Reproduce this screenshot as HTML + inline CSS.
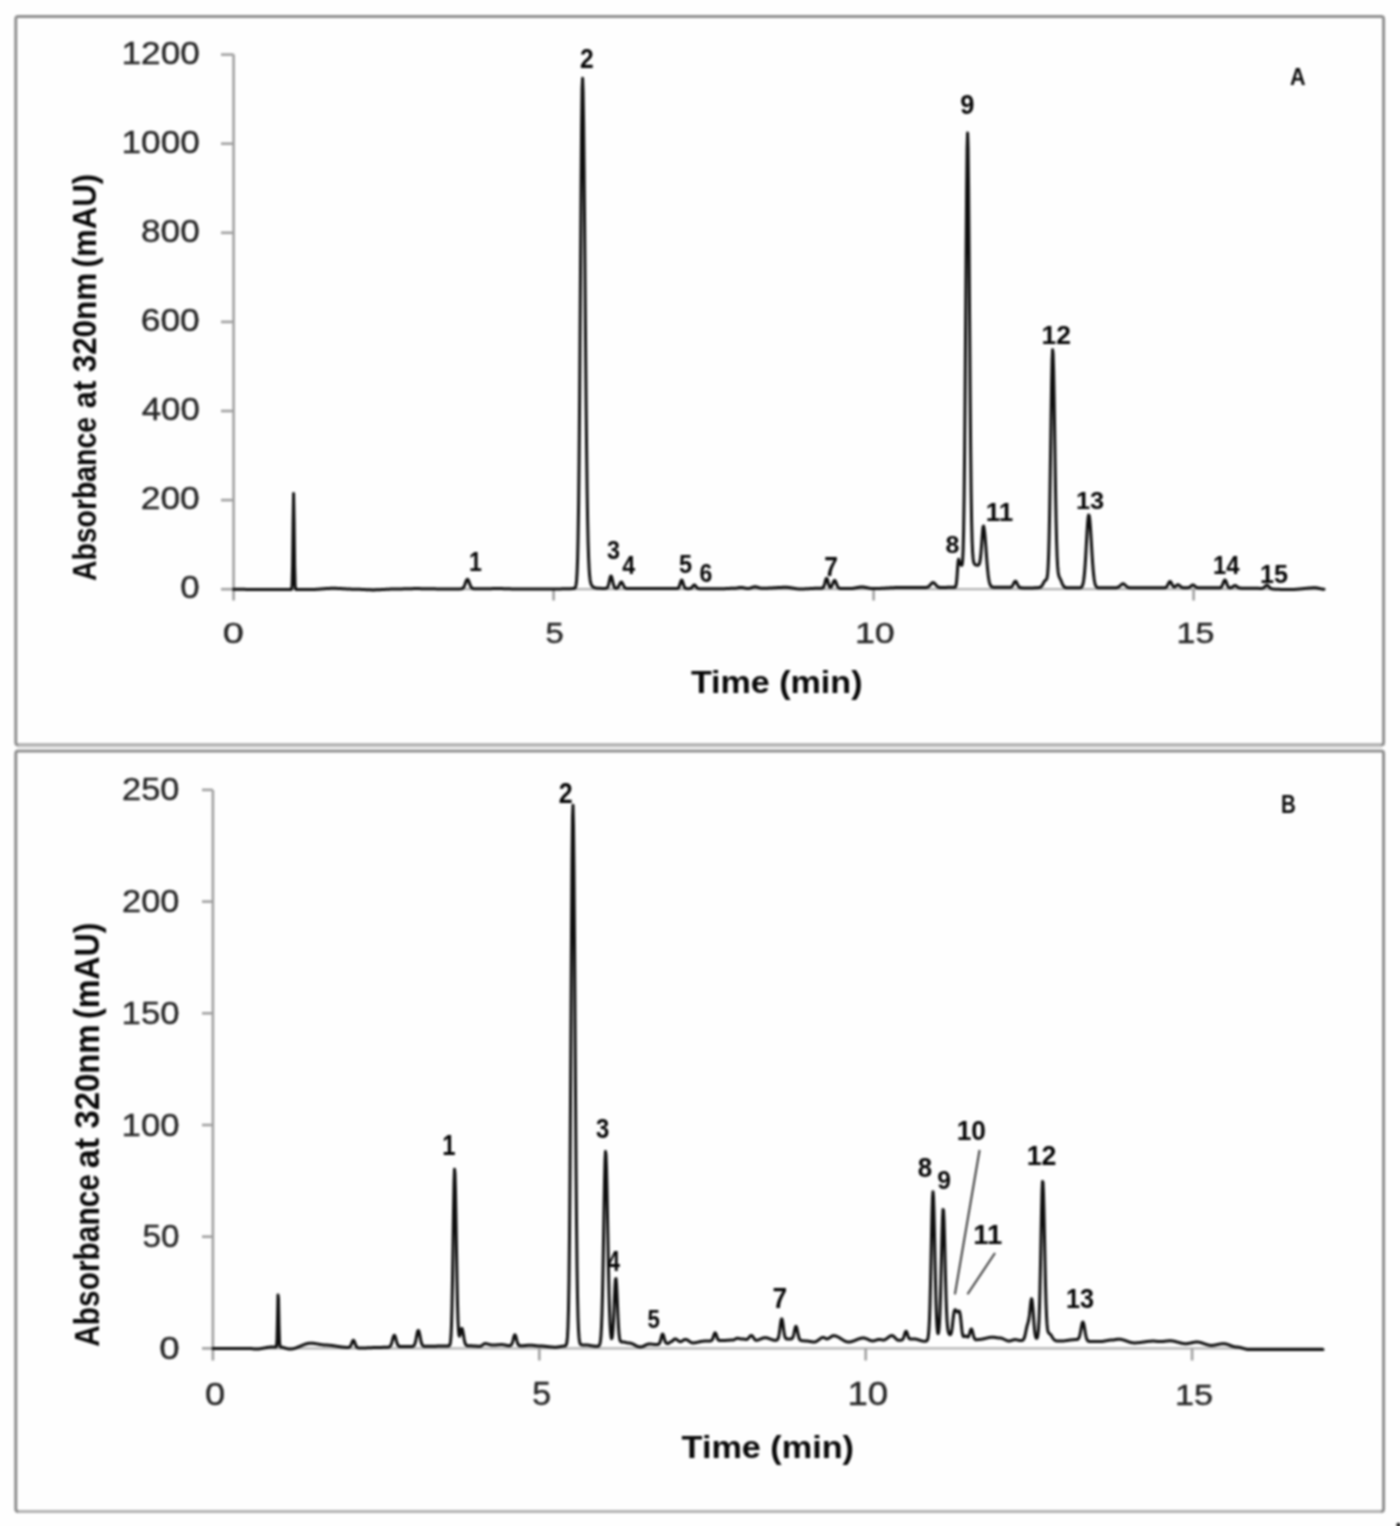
<!DOCTYPE html>
<html><head><meta charset="utf-8"><title>Chromatograms</title>
<style>html,body{margin:0;padding:0;background:#fefefe;}svg{display:block;}</style>
</head><body>
<svg width="1400" height="1526" viewBox="0 0 1400 1526">
<rect width="1400" height="1526" fill="#fefefe"/>
<defs><filter id="bl" filterUnits="userSpaceOnUse" x="0" y="0" width="1400" height="1526" color-interpolation-filters="sRGB"><feGaussianBlur stdDeviation="1.00"/></filter></defs>
<g filter="url(#bl)">
<rect x="15.8" y="16.5" width="1367.8" height="728.4" rx="2.5" fill="none" stroke="#8f8f8f" stroke-width="3"/>
<line x1="18.3" y1="744.9" x2="1381.1" y2="744.9" stroke="#b0b0b0" stroke-width="3"/>
<rect x="15.8" y="751" width="1367.8" height="760.5" rx="2.5" fill="none" stroke="#8d8d8d" stroke-width="3"/>
<line x1="18.3" y1="1511.5" x2="1381.1" y2="1511.5" stroke="#b3b3b3" stroke-width="3"/>
<rect x="17" y="746.6" width="1365" height="3" fill="#ececec"/>
<g stroke="#a0a0a0" stroke-width="2.6" fill="none">
<line x1="233.6" y1="54.6" x2="233.6" y2="600.5"/>
<line x1="233.6" y1="589.2" x2="1324.3" y2="589.2" stroke="#b2b2b2" stroke-width="2.2"/>
<line x1="221" y1="54.6" x2="233.6" y2="54.6"/>
<line x1="221" y1="143.7" x2="233.6" y2="143.7"/>
<line x1="221" y1="232.8" x2="233.6" y2="232.8"/>
<line x1="221" y1="321.9" x2="233.6" y2="321.9"/>
<line x1="221" y1="411.0" x2="233.6" y2="411.0"/>
<line x1="221" y1="500.1" x2="233.6" y2="500.1"/>
<line x1="221" y1="589.2" x2="233.6" y2="589.2"/>
<line x1="553.6" y1="589.2" x2="553.6" y2="600.5"/>
<line x1="873.6" y1="589.2" x2="873.6" y2="600.5"/>
<line x1="1193.6" y1="589.2" x2="1193.6" y2="600.5"/>
</g>
<g stroke="#a0a0a0" stroke-width="2.6" fill="none">
<line x1="212.9" y1="789.9" x2="212.9" y2="1360.5"/>
<line x1="212.9" y1="1348.4" x2="1322.9" y2="1348.4" stroke="#b2b2b2" stroke-width="2.2"/>
<line x1="202" y1="789.9" x2="212.9" y2="789.9"/>
<line x1="202" y1="901.6" x2="212.9" y2="901.6"/>
<line x1="202" y1="1013.3" x2="212.9" y2="1013.3"/>
<line x1="202" y1="1125.0" x2="212.9" y2="1125.0"/>
<line x1="202" y1="1236.7" x2="212.9" y2="1236.7"/>
<line x1="202" y1="1348.4" x2="212.9" y2="1348.4"/>
<line x1="539.3" y1="1348.4" x2="539.3" y2="1360.5"/>
<line x1="865.7" y1="1348.4" x2="865.7" y2="1360.5"/>
<line x1="1192.1" y1="1348.4" x2="1192.1" y2="1360.5"/>
</g>
<path d="M233.6 589.30L234.1 589.30L234.6 589.30L235.1 589.30L235.6 589.30L236.1 589.30L236.6 589.31L237.1 589.31L237.6 589.31L238.1 589.31L238.6 589.32L239.1 589.32L239.6 589.32L240.1 589.33L240.6 589.33L241.1 589.33L241.6 589.34L242.1 589.34L242.6 589.35L243.1 589.35L243.6 589.36L244.1 589.36L244.6 589.37L245.1 589.37L245.6 589.38L246.1 589.38L246.6 589.39L247.1 589.39L247.6 589.40L248.1 589.40L248.6 589.41L249.1 589.42L249.6 589.42L250.1 589.43L250.6 589.44L251.1 589.44L251.6 589.45L252.1 589.45L252.6 589.46L253.1 589.47L253.6 589.47L254.1 589.48L254.6 589.48L255.1 589.49L255.6 589.50L256.1 589.50L256.6 589.51L257.1 589.51L257.6 589.52L258.1 589.52L258.6 589.53L259.1 589.54L259.6 589.54L260.1 589.55L260.6 589.55L261.1 589.55L261.6 589.56L262.1 589.56L262.6 589.57L263.1 589.57L263.6 589.58L264.1 589.58L264.6 589.58L265.1 589.59L265.6 589.59L266.1 589.59L266.6 589.59L267.1 589.59L267.6 589.60L268.1 589.60L268.6 589.60L269.1 589.60L269.6 589.60L270.1 589.60L270.6 589.60L271.1 589.60L271.6 589.60L272.1 589.60L272.6 589.60L273.1 589.59L273.6 589.59L274.1 589.59L274.6 589.59L275.1 589.58L275.6 589.58L276.1 589.58L276.6 589.57L277.1 589.57L277.6 589.57L278.1 589.56L278.6 589.56L279.1 589.56L279.6 589.55L280.1 589.55L280.6 589.55L281.1 589.54L281.6 589.54L282.1 589.53L282.6 589.53L283.1 589.53L283.6 589.52L284.1 589.52L284.6 589.52L285.1 589.52L285.6 589.51L286.1 589.51L286.6 589.51L287.1 589.51L287.6 589.50L288.1 589.50L288.6 589.50L289.1 589.50L289.6 589.50L290.1 589.50L290.6 589.50L291.1 589.48L291.6 589.13L292.1 585.29L292.6 565.57L293.1 521.67L293.6 493.51L294.1 521.67L294.6 565.58L295.1 585.30L295.6 589.15L296.1 589.51L296.6 589.53L297.1 589.53L297.6 589.53L298.1 589.54L298.6 589.54L299.1 589.54L299.6 589.55L300.1 589.55L300.6 589.55L301.1 589.56L301.6 589.56L302.1 589.57L302.6 589.57L303.1 589.57L303.6 589.58L304.1 589.58L304.6 589.58L305.1 589.58L305.6 589.59L306.1 589.59L306.6 589.59L307.1 589.59L307.6 589.60L308.1 589.60L308.6 589.60L309.1 589.60L309.6 589.60L310.1 589.60L310.6 589.60L311.1 589.59L311.6 589.58L312.1 589.57L312.6 589.55L313.1 589.54L313.6 589.51L314.1 589.49L314.6 589.46L315.1 589.44L315.6 589.41L316.1 589.37L316.6 589.34L317.1 589.30L317.6 589.27L318.1 589.23L318.6 589.19L319.1 589.15L319.6 589.11L320.1 589.07L320.6 589.03L321.1 588.98L321.6 588.94L322.1 588.90L322.6 588.86L323.1 588.82L323.6 588.77L324.1 588.73L324.6 588.69L325.1 588.65L325.6 588.62L326.1 588.58L326.6 588.55L327.1 588.51L327.6 588.48L328.1 588.45L328.6 588.42L329.1 588.40L329.6 588.38L330.1 588.36L330.6 588.34L331.1 588.33L331.6 588.31L332.1 588.31L332.6 588.30L333.1 588.30L333.6 588.30L334.1 588.31L334.6 588.31L335.1 588.32L335.6 588.33L336.1 588.35L336.6 588.36L337.1 588.38L337.6 588.40L338.1 588.42L338.6 588.45L339.1 588.47L339.6 588.49L340.1 588.52L340.6 588.55L341.1 588.58L341.6 588.61L342.1 588.63L342.6 588.66L343.1 588.69L343.6 588.73L344.1 588.76L344.6 588.79L345.1 588.82L345.6 588.85L346.1 588.88L346.6 588.91L347.1 588.94L347.6 588.96L348.1 588.99L348.6 589.02L349.1 589.04L349.6 589.06L350.1 589.09L350.6 589.11L351.1 589.13L351.6 589.14L352.1 589.16L352.6 589.17L353.1 589.18L353.6 589.19L354.1 589.20L354.6 589.20L355.1 589.20L355.6 589.20L356.1 589.21L356.6 589.22L357.1 589.23L357.6 589.24L358.1 589.26L358.6 589.27L359.1 589.29L359.6 589.31L360.1 589.34L360.6 589.36L361.1 589.39L361.6 589.41L362.1 589.44L362.6 589.47L363.1 589.50L363.6 589.53L364.1 589.56L364.6 589.58L365.1 589.61L365.6 589.64L366.1 589.67L366.6 589.70L367.1 589.72L367.6 589.75L368.1 589.77L368.6 589.79L369.1 589.82L369.6 589.83L370.1 589.85L370.6 589.87L371.1 589.88L371.6 589.89L372.1 589.89L372.6 589.90L373.1 589.90L373.6 589.90L374.1 589.89L374.6 589.89L375.1 589.88L375.6 589.87L376.1 589.85L376.6 589.84L377.1 589.82L377.6 589.80L378.1 589.78L378.6 589.75L379.1 589.73L379.6 589.71L380.1 589.68L380.6 589.65L381.1 589.62L381.6 589.59L382.1 589.57L382.6 589.54L383.1 589.51L383.6 589.47L384.1 589.44L384.6 589.41L385.1 589.38L385.6 589.35L386.1 589.32L386.6 589.29L387.1 589.26L387.6 589.24L388.1 589.21L388.6 589.18L389.1 589.16L389.6 589.14L390.1 589.11L390.6 589.09L391.1 589.07L391.6 589.06L392.1 589.04L392.6 589.03L393.1 589.02L393.6 589.01L394.1 589.00L394.6 589.00L395.1 589.00L395.6 589.00L396.1 589.00L396.6 588.99L397.1 588.99L397.6 588.98L398.1 588.98L398.6 588.97L399.1 588.96L399.6 588.95L400.1 588.94L400.6 588.93L401.1 588.92L401.6 588.91L402.1 588.89L402.6 588.88L403.1 588.87L403.6 588.85L404.1 588.84L404.6 588.83L405.1 588.81L405.6 588.80L406.1 588.78L406.6 588.77L407.1 588.75L407.6 588.74L408.1 588.73L408.6 588.71L409.1 588.70L409.6 588.69L410.1 588.68L410.6 588.67L411.1 588.66L411.6 588.65L412.1 588.64L412.6 588.63L413.1 588.62L413.6 588.61L414.1 588.61L414.6 588.61L415.1 588.60L415.6 588.60L416.1 588.60L416.6 588.60L417.1 588.60L417.6 588.60L418.1 588.61L418.6 588.61L419.1 588.61L419.6 588.62L420.1 588.62L420.6 588.63L421.1 588.63L421.6 588.64L422.1 588.65L422.6 588.66L423.1 588.66L423.6 588.67L424.1 588.68L424.6 588.69L425.1 588.70L425.6 588.71L426.1 588.71L426.6 588.72L427.1 588.73L427.6 588.74L428.1 588.75L428.6 588.76L429.1 588.77L429.6 588.78L430.1 588.79L430.6 588.80L431.1 588.81L431.6 588.82L432.1 588.82L432.6 588.83L433.1 588.84L433.6 588.85L434.1 588.85L434.6 588.86L435.1 588.87L435.6 588.87L436.1 588.88L436.6 588.88L437.1 588.89L437.6 588.89L438.1 588.89L438.6 588.90L439.1 588.90L439.6 588.90L440.1 588.90L440.6 588.90L441.1 588.90L441.6 588.90L442.1 588.90L442.6 588.90L443.1 588.90L443.6 588.90L444.1 588.90L444.6 588.90L445.1 588.90L445.6 588.90L446.1 588.90L446.6 588.90L447.1 588.90L447.6 588.90L448.1 588.90L448.6 588.90L449.1 588.90L449.6 588.90L450.1 588.90L450.6 588.90L451.1 588.90L451.6 588.90L452.1 588.90L452.6 588.90L453.1 588.90L453.6 588.90L454.1 588.90L454.6 588.90L455.1 588.90L455.6 588.90L456.1 588.90L456.6 588.90L457.1 588.90L457.6 588.90L458.1 588.90L458.6 588.90L459.1 588.90L459.6 588.90L460.1 588.89L460.6 588.87L461.1 588.83L461.6 588.75L462.1 588.61L462.6 588.35L463.1 587.94L463.6 587.31L464.1 586.43L464.6 585.29L465.1 583.94L465.6 582.50L466.1 581.14L466.6 580.05L467.1 579.41L467.6 579.35L468.1 579.85L468.6 580.84L469.1 582.15L469.6 583.57L470.1 584.93L470.6 586.10L471.1 587.02L471.6 587.68L472.1 588.12L472.6 588.39L473.1 588.55L473.6 588.63L474.1 588.67L474.6 588.69L475.1 588.69L475.6 588.70L476.1 588.70L476.6 588.70L477.1 588.70L477.6 588.70L478.1 588.70L478.6 588.69L479.1 588.69L479.6 588.69L480.1 588.69L480.6 588.69L481.1 588.69L481.6 588.68L482.1 588.68L482.6 588.68L483.1 588.68L483.6 588.67L484.1 588.67L484.6 588.67L485.1 588.66L485.6 588.66L486.1 588.66L486.6 588.66L487.1 588.65L487.6 588.65L488.1 588.65L488.6 588.64L489.1 588.64L489.6 588.64L490.1 588.63L490.6 588.63L491.1 588.63L491.6 588.63L492.1 588.62L492.6 588.62L493.1 588.62L493.6 588.62L494.1 588.61L494.6 588.61L495.1 588.61L495.6 588.61L496.1 588.61L496.6 588.61L497.1 588.60L497.6 588.60L498.1 588.60L498.6 588.60L499.1 588.60L499.6 588.60L500.1 588.60L500.6 588.60L501.1 588.60L501.6 588.61L502.1 588.62L502.6 588.62L503.1 588.63L503.6 588.64L504.1 588.65L504.6 588.67L505.1 588.68L505.6 588.70L506.1 588.71L506.6 588.73L507.1 588.74L507.6 588.76L508.1 588.78L508.6 588.80L509.1 588.82L509.6 588.84L510.1 588.85L510.6 588.87L511.1 588.89L511.6 588.91L512.1 588.93L512.6 588.95L513.1 588.96L513.6 588.98L514.1 589.00L514.6 589.01L515.1 589.02L515.6 589.04L516.1 589.05L516.6 589.06L517.1 589.07L517.6 589.08L518.1 589.09L518.6 589.09L519.1 589.10L519.6 589.10L520.1 589.10L520.6 589.10L521.1 589.10L521.6 589.10L522.1 589.10L522.6 589.10L523.1 589.10L523.6 589.10L524.1 589.10L524.6 589.09L525.1 589.09L525.6 589.09L526.1 589.09L526.6 589.09L527.1 589.09L527.6 589.09L528.1 589.08L528.6 589.08L529.1 589.08L529.6 589.08L530.1 589.08L530.6 589.08L531.1 589.07L531.6 589.07L532.1 589.07L532.6 589.07L533.1 589.07L533.6 589.06L534.1 589.06L534.6 589.06L535.1 589.06L535.6 589.05L536.1 589.05L536.6 589.05L537.1 589.05L537.6 589.05L538.1 589.04L538.6 589.04L539.1 589.04L539.6 589.04L540.1 589.03L540.6 589.03L541.1 589.03L541.6 589.03L542.1 589.03L542.6 589.02L543.1 589.02L543.6 589.02L544.1 589.02L544.6 589.02L545.1 589.01L545.6 589.01L546.1 589.01L546.6 589.01L547.1 589.01L547.6 589.01L548.1 589.01L548.6 589.00L549.1 589.00L549.6 589.00L550.1 589.00L550.6 589.00L551.1 589.00L551.6 589.00L552.1 589.00L552.6 589.00L553.1 589.00L553.6 589.00L554.1 589.00L554.6 588.99L555.1 588.99L555.6 588.98L556.1 588.98L556.6 588.97L557.1 588.96L557.6 588.95L558.1 588.95L558.6 588.94L559.1 588.92L559.6 588.91L560.1 588.90L560.6 588.89L561.1 588.88L561.6 588.86L562.1 588.85L562.6 588.84L563.1 588.82L563.6 588.81L564.1 588.80L564.6 588.78L565.1 588.77L565.6 588.76L566.1 588.74L566.6 588.73L567.1 588.72L567.6 588.71L568.1 588.69L568.6 588.68L569.1 588.67L569.6 588.66L570.1 588.65L570.6 588.64L571.1 588.63L571.6 588.62L572.1 588.61L572.6 588.60L573.1 588.58L573.6 588.54L574.1 588.45L574.6 588.24L575.1 587.76L575.6 586.70L576.1 584.50L576.6 580.21L577.1 572.35L577.6 558.84L578.1 537.13L578.6 504.58L579.1 459.22L579.6 400.74L580.1 331.41L580.6 256.67L581.1 184.78L581.6 125.51L582.1 88.01L582.6 78.28L583.1 91.70L583.6 123.57L584.1 170.28L584.6 226.77L585.1 287.54L585.6 347.51L586.1 402.66L586.6 450.31L587.1 489.26L587.6 519.47L588.1 541.81L588.6 557.59L589.1 568.29L589.6 575.28L590.1 579.71L590.6 582.47L591.1 584.18L591.6 585.26L592.1 585.98L592.6 586.48L593.1 586.85L593.6 587.14L594.1 587.38L594.6 587.57L595.1 587.74L595.6 587.87L596.1 587.98L596.6 588.08L597.1 588.15L597.6 588.21L598.1 588.25L598.6 588.29L599.1 588.32L599.6 588.34L600.1 588.36L600.6 588.37L601.1 588.38L601.6 588.38L602.1 588.39L602.6 588.39L603.1 588.40L603.6 588.40L604.1 588.40L604.6 588.40L605.1 588.39L605.6 588.37L606.1 588.30L606.6 588.13L607.1 587.78L607.6 587.11L608.1 586.00L608.6 584.37L609.1 582.25L609.6 579.90L610.1 577.76L610.6 576.32L611.1 575.96L611.6 576.79L612.1 578.57L612.6 580.87L613.1 583.17L613.6 585.11L614.1 586.54L614.6 587.46L615.1 587.98L615.6 588.22L616.1 588.29L616.6 588.23L617.1 588.04L617.6 587.69L618.1 587.15L618.6 586.38L619.1 585.41L619.6 584.34L620.1 583.30L620.6 582.48L621.1 582.05L621.6 582.10L622.1 582.63L622.6 583.51L623.1 584.58L623.6 585.65L624.1 586.59L624.6 587.32L625.1 587.84L625.6 588.17L626.1 588.36L626.6 588.46L627.1 588.51L627.6 588.54L628.1 588.55L628.6 588.56L629.1 588.56L629.6 588.57L630.1 588.57L630.6 588.57L631.1 588.57L631.6 588.58L632.1 588.58L632.6 588.58L633.1 588.58L633.6 588.59L634.1 588.59L634.6 588.59L635.1 588.59L635.6 588.59L636.1 588.59L636.6 588.60L637.1 588.60L637.6 588.60L638.1 588.60L638.6 588.60L639.1 588.60L639.6 588.60L640.1 588.60L640.6 588.60L641.1 588.60L641.6 588.60L642.1 588.60L642.6 588.60L643.1 588.60L643.6 588.60L644.1 588.60L644.6 588.60L645.1 588.60L645.6 588.60L646.1 588.60L646.6 588.60L647.1 588.60L647.6 588.60L648.1 588.60L648.6 588.60L649.1 588.60L649.6 588.60L650.1 588.60L650.6 588.60L651.1 588.60L651.6 588.60L652.1 588.60L652.6 588.60L653.1 588.60L653.6 588.60L654.1 588.60L654.6 588.60L655.1 588.60L655.6 588.60L656.1 588.60L656.6 588.60L657.1 588.60L657.6 588.60L658.1 588.60L658.6 588.60L659.1 588.60L659.6 588.60L660.1 588.60L660.6 588.60L661.1 588.60L661.6 588.60L662.1 588.60L662.6 588.60L663.1 588.60L663.6 588.60L664.1 588.60L664.6 588.60L665.1 588.60L665.6 588.60L666.1 588.60L666.6 588.60L667.1 588.60L667.6 588.60L668.1 588.60L668.6 588.60L669.1 588.60L669.6 588.60L670.1 588.60L670.6 588.60L671.1 588.60L671.6 588.60L672.1 588.60L672.6 588.60L673.1 588.60L673.6 588.60L674.1 588.60L674.6 588.60L675.1 588.60L675.6 588.60L676.1 588.59L676.6 588.57L677.1 588.52L677.6 588.40L678.1 588.12L678.6 587.60L679.1 586.71L679.6 585.41L680.1 583.79L680.6 582.10L681.1 580.75L681.6 580.12L682.1 580.40L682.6 581.50L683.1 583.11L683.6 584.80L684.1 586.25L684.6 587.30L685.1 587.96L685.6 588.33L686.1 588.51L686.6 588.58L687.1 588.62L687.6 588.63L688.1 588.63L688.6 588.63L689.1 588.62L689.6 588.60L690.1 588.53L690.6 588.39L691.1 588.14L691.6 587.75L692.1 587.19L692.6 586.51L693.1 585.80L693.6 585.22L694.1 584.91L694.6 584.95L695.1 585.33L695.6 585.96L696.1 586.67L696.6 587.34L697.1 587.87L697.6 588.24L698.1 588.47L698.6 588.60L699.1 588.66L699.6 588.68L700.1 588.69L700.6 588.70L701.1 588.70L701.6 588.70L702.1 588.70L702.6 588.70L703.1 588.71L703.6 588.71L704.1 588.71L704.6 588.71L705.1 588.72L705.6 588.72L706.1 588.72L706.6 588.73L707.1 588.73L707.6 588.73L708.1 588.74L708.6 588.74L709.1 588.74L709.6 588.75L710.1 588.75L710.6 588.75L711.1 588.76L711.6 588.76L712.1 588.77L712.6 588.77L713.1 588.77L713.6 588.78L714.1 588.78L714.6 588.78L715.1 588.78L715.6 588.79L716.1 588.79L716.6 588.79L717.1 588.79L717.6 588.80L718.1 588.80L718.6 588.80L719.1 588.80L719.6 588.80L720.1 588.80L720.6 588.80L721.1 588.79L721.6 588.78L722.1 588.77L722.6 588.75L723.1 588.73L723.6 588.71L724.1 588.69L724.6 588.67L725.1 588.64L725.6 588.61L726.1 588.58L726.6 588.55L727.1 588.52L727.6 588.49L728.1 588.46L728.6 588.43L729.1 588.41L729.6 588.38L730.1 588.35L730.6 588.32L731.1 588.30L731.6 588.28L732.1 588.26L732.6 588.24L733.1 588.23L733.6 588.21L734.1 588.21L734.6 588.20L735.1 588.20L735.6 588.18L736.1 588.13L736.6 588.06L737.1 587.97L737.6 587.88L738.1 587.78L738.6 587.68L739.1 587.59L739.6 587.51L740.1 587.45L740.6 587.41L741.1 587.40L741.6 587.42L742.1 587.47L742.6 587.55L743.1 587.64L743.6 587.74L744.1 587.86L744.6 587.97L745.1 588.09L745.6 588.20L746.1 588.30L746.6 588.39L747.1 588.45L747.6 588.49L748.1 588.50L748.6 588.46L749.1 588.39L749.6 588.27L750.1 588.13L750.6 587.97L751.1 587.80L751.6 587.61L752.1 587.43L752.6 587.26L753.1 587.11L753.6 586.98L754.1 586.88L754.6 586.82L755.1 586.80L755.6 586.83L756.1 586.90L756.6 587.00L757.1 587.12L757.6 587.27L758.1 587.42L758.6 587.58L759.1 587.74L759.6 587.89L760.1 588.03L760.6 588.14L761.1 588.23L761.6 588.29L762.1 588.30L762.6 588.30L763.1 588.29L763.6 588.29L764.1 588.28L764.6 588.27L765.1 588.25L765.6 588.24L766.1 588.22L766.6 588.20L767.1 588.18L767.6 588.16L768.1 588.14L768.6 588.11L769.1 588.09L769.6 588.06L770.1 588.04L770.6 588.01L771.1 587.98L771.6 587.95L772.1 587.92L772.6 587.89L773.1 587.86L773.6 587.82L774.1 587.79L774.6 587.76L775.1 587.73L775.6 587.70L776.1 587.67L776.6 587.64L777.1 587.61L777.6 587.58L778.1 587.55L778.6 587.53L779.1 587.50L779.6 587.48L780.1 587.45L780.6 587.43L781.1 587.41L781.6 587.39L782.1 587.37L782.6 587.35L783.1 587.34L783.6 587.33L784.1 587.32L784.6 587.31L785.1 587.30L785.6 587.30L786.1 587.30L786.6 587.31L787.1 587.33L787.6 587.36L788.1 587.40L788.6 587.45L789.1 587.51L789.6 587.58L790.1 587.65L790.6 587.73L791.1 587.81L791.6 587.90L792.1 587.99L792.6 588.08L793.1 588.17L793.6 588.26L794.1 588.35L794.6 588.44L795.1 588.52L795.6 588.60L796.1 588.68L796.6 588.75L797.1 588.81L797.6 588.87L798.1 588.91L798.6 588.95L799.1 588.98L799.6 589.00L800.1 589.00L800.6 589.00L801.1 588.99L801.6 588.99L802.1 588.98L802.6 588.96L803.1 588.95L803.6 588.93L804.1 588.91L804.6 588.89L805.1 588.87L805.6 588.85L806.1 588.82L806.6 588.80L807.1 588.77L807.6 588.74L808.1 588.71L808.6 588.68L809.1 588.65L809.6 588.62L810.1 588.59L810.6 588.56L811.1 588.53L811.6 588.50L812.1 588.48L812.6 588.45L813.1 588.42L813.6 588.39L814.1 588.37L814.6 588.34L815.1 588.32L815.6 588.30L816.1 588.28L816.6 588.26L817.1 588.25L817.6 588.23L818.1 588.22L818.6 588.21L819.1 588.20L819.6 588.20L820.1 588.20L820.6 588.20L821.1 588.19L821.6 588.16L822.1 588.09L822.6 587.92L823.1 587.55L823.6 586.86L824.1 585.73L824.6 584.11L825.1 582.17L825.6 580.23L826.1 578.78L826.6 578.25L827.1 578.80L827.6 580.25L828.1 582.19L828.6 584.14L829.1 585.72L829.6 586.77L830.1 587.30L830.6 587.35L831.1 587.00L831.6 586.30L832.1 585.28L832.6 584.03L833.1 582.71L833.6 581.52L834.1 580.68L834.6 580.39L835.1 580.70L835.6 581.56L836.1 582.77L836.6 584.12L837.1 585.39L837.6 586.46L838.1 587.25L838.6 587.79L839.1 588.13L839.6 588.32L840.1 588.42L840.6 588.48L841.1 588.50L841.6 588.52L842.1 588.53L842.6 588.54L843.1 588.55L843.6 588.55L844.1 588.56L844.6 588.57L845.1 588.57L845.6 588.58L846.1 588.58L846.6 588.59L847.1 588.59L847.6 588.59L848.1 588.60L848.6 588.60L849.1 588.60L849.6 588.60L850.1 588.60L850.6 588.59L851.1 588.56L851.6 588.52L852.1 588.47L852.6 588.41L853.1 588.33L853.6 588.25L854.1 588.17L854.6 588.07L855.1 587.98L855.6 587.88L856.1 587.78L856.6 587.68L857.1 587.58L857.6 587.49L858.1 587.40L858.6 587.31L859.1 587.24L859.6 587.17L860.1 587.11L860.6 587.06L861.1 587.03L861.6 587.01L862.1 587.00L862.6 587.01L863.1 587.04L863.6 587.09L864.1 587.15L864.6 587.23L865.1 587.31L865.6 587.40L866.1 587.50L866.6 587.61L867.1 587.71L867.6 587.82L868.1 587.93L868.6 588.04L869.1 588.14L869.6 588.24L870.1 588.33L870.6 588.40L871.1 588.47L871.6 588.53L872.1 588.57L872.6 588.59L873.1 588.60L873.6 588.60L874.1 588.59L874.6 588.59L875.1 588.58L875.6 588.57L876.1 588.56L876.6 588.55L877.1 588.53L877.6 588.52L878.1 588.50L878.6 588.48L879.1 588.46L879.6 588.43L880.1 588.41L880.6 588.39L881.1 588.36L881.6 588.34L882.1 588.31L882.6 588.28L883.1 588.25L883.6 588.22L884.1 588.20L884.6 588.17L885.1 588.14L885.6 588.10L886.1 588.07L886.6 588.04L887.1 588.01L887.6 587.98L888.1 587.95L888.6 587.92L889.1 587.89L889.6 587.86L890.1 587.84L890.6 587.81L891.1 587.78L891.6 587.75L892.1 587.73L892.6 587.70L893.1 587.68L893.6 587.66L894.1 587.63L894.6 587.61L895.1 587.60L895.6 587.58L896.1 587.56L896.6 587.55L897.1 587.54L897.6 587.52L898.1 587.52L898.6 587.51L899.1 587.50L899.6 587.50L900.1 587.50L900.6 587.50L901.1 587.50L901.6 587.50L902.1 587.50L902.6 587.50L903.1 587.50L903.6 587.50L904.1 587.50L904.6 587.50L905.1 587.50L905.6 587.50L906.1 587.50L906.6 587.50L907.1 587.50L907.6 587.50L908.1 587.50L908.6 587.50L909.1 587.50L909.6 587.50L910.1 587.50L910.6 587.50L911.1 587.50L911.6 587.50L912.1 587.50L912.6 587.50L913.1 587.50L913.6 587.50L914.1 587.50L914.6 587.50L915.1 587.50L915.6 587.50L916.1 587.50L916.6 587.50L917.1 587.50L917.6 587.50L918.1 587.50L918.6 587.50L919.1 587.50L919.6 587.50L920.1 587.50L920.6 587.50L921.1 587.51L921.6 587.51L922.1 587.51L922.6 587.51L923.1 587.51L923.6 587.51L924.1 587.51L924.6 587.51L925.1 587.49L925.6 587.47L926.1 587.43L926.6 587.36L927.1 587.26L927.6 587.10L928.1 586.87L928.6 586.56L929.1 586.16L929.6 585.68L930.1 585.12L930.6 584.53L931.1 583.93L931.6 583.39L932.1 582.95L932.6 582.67L933.1 582.58L933.6 582.68L934.1 582.97L934.6 583.41L935.1 583.96L935.6 584.56L936.1 585.16L936.6 585.72L937.1 586.21L937.6 586.61L938.1 586.92L938.6 587.15L939.1 587.32L939.6 587.43L940.1 587.50L940.6 587.54L941.1 587.56L941.6 587.57L942.1 587.56L942.6 587.55L943.1 587.54L943.6 587.52L944.1 587.51L944.6 587.49L945.1 587.46L945.6 587.44L946.1 587.42L946.6 587.40L947.1 587.37L947.6 587.35L948.1 587.33L948.6 587.31L949.1 587.29L949.6 587.27L950.1 587.25L950.6 587.24L951.1 587.22L951.6 587.21L952.1 587.21L952.6 587.20L953.1 587.20L953.6 587.20L954.1 587.20L954.6 587.17L955.1 587.05L955.6 586.57L956.1 585.09L956.6 581.61L957.1 575.52L957.6 567.89L958.1 561.62L958.6 559.24L959.1 560.51L959.6 562.89L960.1 564.29L960.6 564.65L961.1 564.90L961.6 565.31L962.1 564.75L962.6 560.90L963.1 550.71L963.6 530.94L964.1 498.75L964.6 452.52L965.1 392.94L965.6 324.04L966.1 253.46L966.6 191.45L967.1 148.62L967.6 133.04L968.1 147.69L968.6 189.54L969.1 250.49L969.6 319.84L970.1 387.27L970.6 445.17L971.1 489.75L971.6 520.80L972.1 540.53L972.6 552.09L973.1 558.42L973.6 561.69L974.1 563.33L974.6 564.14L975.1 564.57L975.6 564.82L976.1 564.97L976.6 565.08L977.1 565.16L977.6 565.19L978.1 565.14L978.6 564.91L979.1 564.29L979.6 562.98L980.1 560.61L980.6 556.81L981.1 551.45L981.6 544.76L982.1 537.51L982.6 530.95L983.1 526.65L983.6 526.02L984.1 528.32L984.6 532.18L985.1 537.41L985.6 543.66L986.1 550.44L986.6 557.26L987.1 563.69L987.6 569.40L988.1 574.20L988.6 578.06L989.1 581.00L989.6 583.15L990.1 584.65L990.6 585.65L991.1 586.29L991.6 586.69L992.1 586.92L992.6 587.05L993.1 587.13L993.6 587.16L994.1 587.18L994.6 587.19L995.1 587.20L995.6 587.20L996.1 587.20L996.6 587.20L997.1 587.20L997.6 587.20L998.1 587.20L998.6 587.20L999.1 587.20L999.6 587.20L1000.1 587.20L1000.6 587.20L1001.1 587.20L1001.6 587.21L1002.1 587.21L1002.6 587.22L1003.1 587.22L1003.6 587.23L1004.1 587.24L1004.6 587.25L1005.1 587.26L1005.6 587.27L1006.1 587.29L1006.6 587.30L1007.1 587.31L1007.6 587.33L1008.1 587.34L1008.6 587.35L1009.1 587.36L1009.6 587.36L1010.1 587.33L1010.6 587.24L1011.1 587.07L1011.6 586.77L1012.1 586.27L1012.6 585.57L1013.1 584.65L1013.6 583.60L1014.1 582.56L1014.6 581.70L1015.1 581.19L1015.6 581.16L1016.1 581.62L1016.6 582.46L1017.1 583.52L1017.6 584.62L1018.1 585.61L1018.6 586.40L1019.1 586.97L1019.6 587.35L1020.1 587.58L1020.6 587.71L1021.1 587.79L1021.6 587.83L1022.1 587.86L1022.6 587.88L1023.1 587.89L1023.6 587.91L1024.1 587.92L1024.6 587.93L1025.1 587.94L1025.6 587.95L1026.1 587.96L1026.6 587.97L1027.1 587.98L1027.6 587.99L1028.1 587.99L1028.6 587.99L1029.1 588.00L1029.6 588.00L1030.1 588.00L1030.6 588.00L1031.1 587.99L1031.6 587.97L1032.1 587.95L1032.6 587.93L1033.1 587.91L1033.6 587.88L1034.1 587.85L1034.6 587.82L1035.1 587.79L1035.6 587.76L1036.1 587.73L1036.6 587.71L1037.1 587.68L1037.6 587.65L1038.1 587.61L1038.6 587.57L1039.1 587.51L1039.6 587.41L1040.1 587.26L1040.6 587.01L1041.1 586.65L1041.6 586.15L1042.1 585.48L1042.6 584.67L1043.1 583.74L1043.6 582.78L1044.1 581.87L1044.6 581.11L1045.1 580.56L1045.6 580.19L1046.1 579.85L1046.6 579.17L1047.1 577.53L1047.6 573.98L1048.1 567.25L1048.6 555.94L1049.1 538.71L1049.6 514.82L1050.1 484.63L1050.6 450.04L1051.1 414.56L1051.6 382.91L1052.1 360.03L1052.6 349.87L1053.1 353.81L1053.6 370.31L1054.1 396.67L1054.6 428.88L1055.1 462.62L1055.6 494.11L1056.1 520.81L1056.6 541.51L1057.1 556.25L1057.6 565.88L1058.1 571.66L1058.6 574.86L1059.1 576.60L1059.6 577.68L1060.1 578.60L1060.6 579.61L1061.1 580.77L1061.6 582.03L1062.1 583.28L1062.6 584.43L1063.1 585.41L1063.6 586.19L1064.1 586.77L1064.6 587.17L1065.1 587.43L1065.6 587.60L1066.1 587.69L1066.6 587.74L1067.1 587.77L1067.6 587.79L1068.1 587.79L1068.6 587.80L1069.1 587.80L1069.6 587.80L1070.1 587.80L1070.6 587.80L1071.1 587.80L1071.6 587.80L1072.1 587.80L1072.6 587.80L1073.1 587.80L1073.6 587.80L1074.1 587.80L1074.6 587.80L1075.1 587.80L1075.6 587.80L1076.1 587.80L1076.6 587.80L1077.1 587.80L1077.6 587.80L1078.1 587.80L1078.6 587.79L1079.1 587.78L1079.6 587.75L1080.1 587.70L1080.6 587.59L1081.1 587.38L1081.6 586.99L1082.1 586.32L1082.6 585.20L1083.1 583.45L1083.6 580.82L1084.1 577.07L1084.6 572.01L1085.1 565.56L1085.6 557.79L1086.1 549.03L1086.6 539.84L1087.1 531.00L1087.6 523.38L1088.1 517.84L1088.6 515.05L1089.1 515.28L1089.6 518.18L1090.1 523.38L1090.6 530.36L1091.1 538.44L1091.6 546.92L1092.1 555.18L1092.6 562.71L1093.1 569.21L1093.6 574.52L1094.1 578.66L1094.6 581.74L1095.1 583.92L1095.6 585.41L1096.1 586.38L1096.6 586.99L1097.1 587.35L1097.6 587.56L1098.1 587.68L1098.6 587.74L1099.1 587.77L1099.6 587.79L1100.1 587.79L1100.6 587.80L1101.1 587.80L1101.6 587.80L1102.1 587.80L1102.6 587.80L1103.1 587.80L1103.6 587.80L1104.1 587.80L1104.6 587.80L1105.1 587.80L1105.6 587.80L1106.1 587.80L1106.6 587.80L1107.1 587.80L1107.6 587.80L1108.1 587.80L1108.6 587.80L1109.1 587.80L1109.6 587.80L1110.1 587.80L1110.6 587.80L1111.1 587.80L1111.6 587.80L1112.1 587.80L1112.6 587.80L1113.1 587.80L1113.6 587.80L1114.1 587.79L1114.6 587.79L1115.1 587.77L1115.6 587.75L1116.1 587.71L1116.6 587.65L1117.1 587.55L1117.6 587.41L1118.1 587.21L1118.6 586.95L1119.1 586.62L1119.6 586.21L1120.1 585.76L1120.6 585.28L1121.1 584.80L1121.6 584.38L1122.1 584.05L1122.6 583.85L1123.1 583.80L1123.6 583.91L1124.1 584.17L1124.6 584.54L1125.1 584.99L1125.6 585.47L1126.1 585.95L1126.6 586.38L1127.1 586.76L1127.6 587.06L1128.1 587.30L1128.6 587.47L1129.1 587.60L1129.6 587.68L1130.1 587.73L1130.6 587.76L1131.1 587.78L1131.6 587.79L1132.1 587.79L1132.6 587.80L1133.1 587.80L1133.6 587.80L1134.1 587.80L1134.6 587.80L1135.1 587.80L1135.6 587.80L1136.1 587.80L1136.6 587.80L1137.1 587.80L1137.6 587.80L1138.1 587.80L1138.6 587.80L1139.1 587.80L1139.6 587.80L1140.1 587.80L1140.6 587.80L1141.1 587.80L1141.6 587.80L1142.1 587.80L1142.6 587.80L1143.1 587.80L1143.6 587.80L1144.1 587.80L1144.6 587.80L1145.1 587.80L1145.6 587.80L1146.1 587.80L1146.6 587.80L1147.1 587.80L1147.6 587.80L1148.1 587.80L1148.6 587.80L1149.1 587.80L1149.6 587.80L1150.1 587.80L1150.6 587.80L1151.1 587.80L1151.6 587.80L1152.1 587.80L1152.6 587.80L1153.1 587.80L1153.6 587.80L1154.1 587.80L1154.6 587.80L1155.1 587.80L1155.6 587.80L1156.1 587.80L1156.6 587.80L1157.1 587.80L1157.6 587.80L1158.1 587.80L1158.6 587.80L1159.1 587.80L1159.6 587.80L1160.1 587.80L1160.6 587.80L1161.1 587.80L1161.6 587.80L1162.1 587.80L1162.6 587.80L1163.1 587.80L1163.6 587.79L1164.1 587.77L1164.6 587.73L1165.1 587.65L1165.6 587.48L1166.1 587.20L1166.6 586.74L1167.1 586.08L1167.6 585.21L1168.1 584.19L1168.6 583.14L1169.1 582.24L1169.6 581.65L1170.1 581.51L1170.6 581.84L1171.1 582.57L1171.6 583.54L1172.1 584.57L1172.6 585.50L1173.1 586.22L1173.6 586.68L1174.1 586.88L1174.6 586.85L1175.1 586.64L1175.6 586.29L1176.1 585.87L1176.6 585.44L1177.1 585.09L1177.6 584.86L1178.1 584.80L1178.6 584.93L1179.1 585.22L1179.6 585.62L1180.1 586.07L1180.6 586.51L1181.1 586.90L1181.6 587.21L1182.1 587.43L1182.6 587.59L1183.1 587.68L1183.6 587.74L1184.1 587.77L1184.6 587.79L1185.1 587.79L1185.6 587.79L1186.1 587.79L1186.6 587.78L1187.1 587.76L1187.6 587.72L1188.1 587.64L1188.6 587.52L1189.1 587.34L1189.6 587.08L1190.1 586.75L1190.6 586.35L1191.1 585.93L1191.6 585.53L1192.1 585.22L1192.6 585.03L1193.1 585.01L1193.6 585.17L1194.1 585.46L1194.6 585.85L1195.1 586.27L1195.6 586.67L1196.1 587.02L1196.6 587.29L1197.1 587.49L1197.6 587.62L1198.1 587.70L1198.6 587.75L1199.1 587.78L1199.6 587.79L1200.1 587.80L1200.6 587.80L1201.1 587.80L1201.6 587.80L1202.1 587.80L1202.6 587.80L1203.1 587.80L1203.6 587.80L1204.1 587.80L1204.6 587.80L1205.1 587.80L1205.6 587.80L1206.1 587.80L1206.6 587.80L1207.1 587.80L1207.6 587.80L1208.1 587.80L1208.6 587.80L1209.1 587.80L1209.6 587.80L1210.1 587.80L1210.6 587.80L1211.1 587.80L1211.6 587.80L1212.1 587.80L1212.6 587.80L1213.1 587.81L1213.6 587.81L1214.1 587.81L1214.6 587.81L1215.1 587.82L1215.6 587.82L1216.1 587.83L1216.6 587.83L1217.1 587.83L1217.6 587.84L1218.1 587.84L1218.6 587.84L1219.1 587.83L1219.6 587.80L1220.1 587.72L1220.6 587.54L1221.1 587.22L1221.6 586.67L1222.1 585.83L1222.6 584.69L1223.1 583.33L1223.6 581.94L1224.1 580.75L1224.6 580.04L1225.1 579.98L1225.6 580.59L1226.1 581.71L1226.6 583.10L1227.1 584.49L1227.6 585.70L1228.1 586.60L1228.6 587.22L1229.1 587.58L1229.6 587.75L1230.1 587.80L1230.6 587.76L1231.1 587.63L1231.6 587.43L1232.1 587.16L1232.6 586.82L1233.1 586.45L1233.6 586.10L1234.1 585.80L1234.6 585.62L1235.1 585.58L1235.6 585.69L1236.1 585.94L1236.6 586.28L1237.1 586.66L1237.6 587.03L1238.1 587.36L1238.6 587.63L1239.1 587.82L1239.6 587.96L1240.1 588.04L1240.6 588.09L1241.1 588.13L1241.6 588.14L1242.1 588.15L1242.6 588.16L1243.1 588.17L1243.6 588.17L1244.1 588.18L1244.6 588.18L1245.1 588.18L1245.6 588.19L1246.1 588.19L1246.6 588.19L1247.1 588.19L1247.6 588.20L1248.1 588.20L1248.6 588.20L1249.1 588.20L1249.6 588.20L1250.1 588.20L1250.6 588.20L1251.1 588.20L1251.6 588.21L1252.1 588.21L1252.6 588.22L1253.1 588.22L1253.6 588.23L1254.1 588.24L1254.6 588.25L1255.1 588.26L1255.6 588.27L1256.1 588.29L1256.6 588.30L1257.1 588.32L1257.6 588.33L1258.1 588.35L1258.6 588.37L1259.1 588.38L1259.6 588.40L1260.1 588.41L1260.6 588.42L1261.1 588.42L1261.6 588.39L1262.1 588.33L1262.6 588.22L1263.1 588.03L1263.6 587.75L1264.1 587.38L1264.6 586.92L1265.1 586.42L1265.6 585.93L1266.1 585.53L1266.6 585.29L1267.1 585.25L1267.6 585.43L1268.1 585.79L1268.6 586.29L1269.1 586.84L1269.6 587.38L1270.1 587.85L1270.6 588.24L1271.1 588.53L1271.6 588.74L1272.1 588.87L1272.6 588.97L1273.1 589.03L1273.6 589.07L1274.1 589.11L1274.6 589.13L1275.1 589.16L1275.6 589.19L1276.1 589.21L1276.6 589.23L1277.1 589.26L1277.6 589.28L1278.1 589.30L1278.6 589.32L1279.1 589.34L1279.6 589.37L1280.1 589.39L1280.6 589.40L1281.1 589.42L1281.6 589.44L1282.1 589.46L1282.6 589.47L1283.1 589.49L1283.6 589.50L1284.1 589.52L1284.6 589.53L1285.1 589.54L1285.6 589.55L1286.1 589.56L1286.6 589.57L1287.1 589.58L1287.6 589.59L1288.1 589.59L1288.6 589.59L1289.1 589.60L1289.6 589.60L1290.1 589.60L1290.6 589.60L1291.1 589.59L1291.6 589.58L1292.1 589.56L1292.6 589.55L1293.1 589.52L1293.6 589.50L1294.1 589.47L1294.6 589.44L1295.1 589.41L1295.6 589.37L1296.1 589.33L1296.6 589.29L1297.1 589.25L1297.6 589.20L1298.1 589.16L1298.6 589.11L1299.1 589.06L1299.6 589.01L1300.1 588.96L1300.6 588.90L1301.1 588.85L1301.6 588.80L1302.1 588.74L1302.6 588.69L1303.1 588.64L1303.6 588.58L1304.1 588.53L1304.6 588.48L1305.1 588.42L1305.6 588.37L1306.1 588.32L1306.6 588.27L1307.1 588.23L1307.6 588.18L1308.1 588.14L1308.6 588.09L1309.1 588.05L1309.6 588.02L1310.1 587.98L1310.6 587.95L1311.1 587.92L1311.6 587.89L1312.1 587.87L1312.6 587.85L1313.1 587.83L1313.6 587.82L1314.1 587.81L1314.6 587.80L1315.1 587.80L1315.6 587.82L1316.1 587.86L1316.6 587.92L1317.1 587.99L1317.6 588.09L1318.1 588.19L1318.6 588.30L1319.1 588.42L1319.6 588.54L1320.1 588.66L1320.6 588.78L1321.1 588.89L1321.6 588.99L1322.1 589.09L1322.6 589.17L1323.1 589.23L1323.6 589.28L1324.1 589.30" fill="none" stroke="#0e0e0e" stroke-width="3" stroke-linejoin="round" stroke-linecap="round"/>
<path d="M213.0 1348.60L213.5 1348.60L214.0 1348.60L214.5 1348.60L215.0 1348.60L215.5 1348.60L216.0 1348.60L216.5 1348.60L217.0 1348.60L217.5 1348.60L218.0 1348.60L218.5 1348.59L219.0 1348.59L219.5 1348.59L220.0 1348.59L220.5 1348.59L221.0 1348.59L221.5 1348.59L222.0 1348.59L222.5 1348.58L223.0 1348.58L223.5 1348.58L224.0 1348.58L224.5 1348.58L225.0 1348.58L225.5 1348.57L226.0 1348.57L226.5 1348.57L227.0 1348.57L227.5 1348.57L228.0 1348.56L228.5 1348.56L229.0 1348.56L229.5 1348.56L230.0 1348.56L230.5 1348.55L231.0 1348.55L231.5 1348.55L232.0 1348.55L232.5 1348.55L233.0 1348.54L233.5 1348.54L234.0 1348.54L234.5 1348.54L235.0 1348.54L235.5 1348.53L236.0 1348.53L236.5 1348.53L237.0 1348.53L237.5 1348.53L238.0 1348.52L238.5 1348.52L239.0 1348.52L239.5 1348.52L240.0 1348.52L240.5 1348.52L241.0 1348.51L241.5 1348.51L242.0 1348.51L242.5 1348.51L243.0 1348.51L243.5 1348.51L244.0 1348.51L244.5 1348.51L245.0 1348.50L245.5 1348.50L246.0 1348.50L246.5 1348.50L247.0 1348.50L247.5 1348.50L248.0 1348.50L248.5 1348.50L249.0 1348.50L249.5 1348.50L250.0 1348.50L250.5 1348.51L251.0 1348.54L251.5 1348.59L252.0 1348.66L252.5 1348.73L253.0 1348.80L253.5 1348.87L254.0 1348.94L254.5 1349.01L255.0 1349.06L255.5 1349.09L256.0 1349.10L256.5 1349.09L257.0 1349.08L257.5 1349.05L258.0 1349.01L258.5 1348.96L259.0 1348.91L259.5 1348.84L260.0 1348.77L260.5 1348.70L261.0 1348.61L261.5 1348.53L262.0 1348.44L262.5 1348.34L263.0 1348.25L263.5 1348.15L264.0 1348.05L264.5 1347.95L265.0 1347.85L265.5 1347.76L266.0 1347.66L266.5 1347.57L267.0 1347.49L267.5 1347.40L268.0 1347.33L268.5 1347.26L269.0 1347.19L269.5 1347.14L270.0 1347.09L270.5 1347.05L271.0 1347.02L271.5 1347.01L272.0 1347.00L272.5 1347.00L273.0 1347.00L273.5 1347.00L274.0 1347.00L274.5 1347.00L275.0 1347.00L275.5 1347.00L276.0 1346.93L276.5 1346.01L277.0 1339.56L277.5 1319.15L278.0 1294.97L278.5 1298.46L279.0 1324.39L279.5 1341.74L280.0 1346.39L280.5 1346.98L281.0 1347.06L281.5 1347.13L282.0 1347.22L282.5 1347.33L283.0 1347.45L283.5 1347.59L284.0 1347.74L284.5 1347.89L285.0 1348.05L285.5 1348.21L286.0 1348.36L286.5 1348.51L287.0 1348.65L287.5 1348.77L288.0 1348.88L288.5 1348.97L289.0 1349.04L289.5 1349.08L290.0 1349.10L290.5 1349.09L291.0 1349.06L291.5 1349.01L292.0 1348.94L292.5 1348.86L293.0 1348.76L293.5 1348.65L294.0 1348.52L294.5 1348.38L295.0 1348.23L295.5 1348.06L296.0 1347.89L296.5 1347.71L297.0 1347.52L297.5 1347.32L298.0 1347.12L298.5 1346.92L299.0 1346.71L299.5 1346.49L300.0 1346.28L300.5 1346.06L301.0 1345.85L301.5 1345.64L302.0 1345.43L302.5 1345.22L303.0 1345.02L303.5 1344.82L304.0 1344.63L304.5 1344.45L305.0 1344.27L305.5 1344.11L306.0 1343.95L306.5 1343.81L307.0 1343.68L307.5 1343.56L308.0 1343.46L308.5 1343.37L309.0 1343.30L309.5 1343.25L310.0 1343.21L310.5 1343.20L311.0 1343.20L311.5 1343.22L312.0 1343.24L312.5 1343.27L313.0 1343.32L313.5 1343.36L314.0 1343.42L314.5 1343.48L315.0 1343.55L315.5 1343.63L316.0 1343.70L316.5 1343.78L317.0 1343.87L317.5 1343.96L318.0 1344.04L318.5 1344.13L319.0 1344.22L319.5 1344.31L320.0 1344.40L320.5 1344.48L321.0 1344.56L321.5 1344.64L322.0 1344.72L322.5 1344.79L323.0 1344.85L323.5 1344.91L324.0 1344.97L324.5 1345.01L325.0 1345.05L325.5 1345.07L326.0 1345.09L326.5 1345.10L327.0 1345.10L327.5 1345.11L328.0 1345.13L328.5 1345.16L329.0 1345.19L329.5 1345.23L330.0 1345.27L330.5 1345.32L331.0 1345.37L331.5 1345.43L332.0 1345.50L332.5 1345.57L333.0 1345.64L333.5 1345.71L334.0 1345.79L334.5 1345.87L335.0 1345.95L335.5 1346.03L336.0 1346.11L336.5 1346.20L337.0 1346.28L337.5 1346.37L338.0 1346.45L338.5 1346.53L339.0 1346.62L339.5 1346.70L340.0 1346.77L340.5 1346.85L341.0 1346.92L341.5 1346.99L342.0 1347.05L342.5 1347.11L343.0 1347.17L343.5 1347.22L344.0 1347.27L344.5 1347.30L345.0 1347.34L345.5 1347.36L346.0 1347.38L346.5 1347.40L347.0 1347.40L347.5 1347.39L348.0 1347.38L348.5 1347.35L349.0 1347.26L349.5 1347.07L350.0 1346.70L350.5 1346.06L351.0 1345.12L351.5 1343.89L352.0 1342.53L352.5 1341.29L353.0 1340.46L353.5 1340.28L354.0 1340.80L354.5 1341.89L355.0 1343.28L355.5 1344.67L356.0 1345.85L356.5 1346.72L357.0 1347.29L357.5 1347.63L358.0 1347.81L358.5 1347.90L359.0 1347.95L359.5 1347.98L360.0 1347.99L360.5 1348.00L361.0 1348.00L361.5 1348.00L362.0 1348.00L362.5 1347.99L363.0 1347.98L363.5 1347.97L364.0 1347.96L364.5 1347.95L365.0 1347.93L365.5 1347.91L366.0 1347.90L366.5 1347.88L367.0 1347.86L367.5 1347.84L368.0 1347.82L368.5 1347.79L369.0 1347.77L369.5 1347.75L370.0 1347.72L370.5 1347.70L371.0 1347.68L371.5 1347.65L372.0 1347.63L372.5 1347.61L373.0 1347.58L373.5 1347.56L374.0 1347.54L374.5 1347.52L375.0 1347.50L375.5 1347.49L376.0 1347.47L376.5 1347.45L377.0 1347.44L377.5 1347.43L378.0 1347.42L378.5 1347.41L379.0 1347.40L379.5 1347.40L380.0 1347.40L380.5 1347.40L381.0 1347.40L381.5 1347.39L382.0 1347.38L382.5 1347.37L383.0 1347.36L383.5 1347.35L384.0 1347.34L384.5 1347.32L385.0 1347.31L385.5 1347.29L386.0 1347.27L386.5 1347.25L387.0 1347.22L387.5 1347.20L388.0 1347.16L388.5 1347.09L389.0 1346.98L389.5 1346.78L390.0 1346.41L390.5 1345.81L391.0 1344.87L391.5 1343.54L392.0 1341.85L392.5 1339.91L393.0 1337.99L393.5 1336.39L394.0 1335.43L394.5 1335.31L395.0 1336.06L395.5 1337.50L396.0 1339.34L396.5 1341.24L397.0 1342.95L397.5 1344.31L398.0 1345.27L398.5 1345.89L399.0 1346.25L399.5 1346.43L400.0 1346.52L400.5 1346.55L401.0 1346.55L401.5 1346.54L402.0 1346.53L402.5 1346.52L403.0 1346.52L403.5 1346.51L404.0 1346.50L404.5 1346.50L405.0 1346.50L405.5 1346.50L406.0 1346.50L406.5 1346.50L407.0 1346.50L407.5 1346.49L408.0 1346.49L408.5 1346.49L409.0 1346.48L409.5 1346.48L410.0 1346.48L410.5 1346.47L411.0 1346.46L411.5 1346.45L412.0 1346.42L412.5 1346.36L413.0 1346.24L413.5 1345.98L414.0 1345.51L414.5 1344.71L415.0 1343.44L415.5 1341.64L416.0 1339.34L416.5 1336.70L417.0 1334.07L417.5 1331.90L418.0 1330.61L418.5 1330.48L419.0 1331.54L419.5 1333.55L420.0 1336.12L420.5 1338.77L421.0 1341.15L421.5 1343.05L422.0 1344.40L422.5 1345.28L423.0 1345.80L423.5 1346.08L424.0 1346.21L424.5 1346.27L425.0 1346.30L425.5 1346.30L426.0 1346.31L426.5 1346.30L427.0 1346.30L427.5 1346.30L428.0 1346.30L428.5 1346.30L429.0 1346.30L429.5 1346.30L430.0 1346.29L430.5 1346.29L431.0 1346.28L431.5 1346.27L432.0 1346.26L432.5 1346.25L433.0 1346.24L433.5 1346.23L434.0 1346.22L434.5 1346.20L435.0 1346.19L435.5 1346.17L436.0 1346.16L436.5 1346.14L437.0 1346.12L437.5 1346.11L438.0 1346.09L438.5 1346.08L439.0 1346.06L439.5 1346.04L440.0 1346.03L440.5 1346.01L441.0 1346.00L441.5 1345.98L442.0 1345.97L442.5 1345.96L443.0 1345.95L443.5 1345.94L444.0 1345.93L444.5 1345.92L445.0 1345.91L445.5 1345.91L446.0 1345.90L446.5 1345.90L447.0 1345.90L447.5 1345.90L448.0 1345.89L448.5 1345.85L449.0 1345.73L449.5 1345.35L450.0 1344.29L450.5 1341.67L451.0 1335.96L451.5 1324.97L452.0 1306.48L452.5 1279.46L453.0 1245.67L453.5 1210.61L454.0 1182.49L454.5 1169.27L455.0 1173.70L455.5 1192.00L456.0 1219.72L456.5 1250.94L457.0 1280.19L457.5 1303.83L458.0 1320.46L458.5 1330.45L459.0 1335.13L459.5 1336.06L460.0 1334.71L460.5 1332.34L461.0 1330.02L461.5 1328.55L462.0 1328.43L462.5 1329.74L463.0 1332.18L463.5 1335.20L464.0 1338.24L464.5 1340.86L465.0 1342.84L465.5 1344.17L466.0 1344.98L466.5 1345.42L467.0 1345.64L467.5 1345.74L468.0 1345.78L468.5 1345.79L469.0 1345.80L469.5 1345.80L470.0 1345.80L470.5 1345.80L471.0 1345.81L471.5 1345.83L472.0 1345.85L472.5 1345.88L473.0 1345.91L473.5 1345.94L474.0 1345.98L474.5 1346.01L475.0 1346.05L475.5 1346.09L476.0 1346.12L476.5 1346.16L477.0 1346.19L477.5 1346.22L478.0 1346.25L478.5 1346.27L479.0 1346.29L479.5 1346.30L480.0 1346.30L480.5 1346.23L481.0 1346.03L481.5 1345.74L482.0 1345.38L482.5 1344.99L483.0 1344.60L483.5 1344.23L484.0 1343.92L484.5 1343.70L485.0 1343.60L485.5 1343.61L486.0 1343.66L486.5 1343.74L487.0 1343.84L487.5 1343.96L488.0 1344.10L488.5 1344.25L489.0 1344.39L489.5 1344.54L490.0 1344.68L490.5 1344.81L491.0 1344.92L491.5 1345.01L492.0 1345.07L492.5 1345.10L493.0 1345.10L493.5 1345.09L494.0 1345.07L494.5 1345.04L495.0 1345.01L495.5 1344.98L496.0 1344.94L496.5 1344.90L497.0 1344.86L497.5 1344.82L498.0 1344.78L498.5 1344.74L499.0 1344.71L499.5 1344.67L500.0 1344.65L500.5 1344.62L501.0 1344.61L501.5 1344.60L502.0 1344.60L502.5 1344.63L503.0 1344.68L503.5 1344.74L504.0 1344.82L504.5 1344.91L505.0 1345.01L505.5 1345.11L506.0 1345.21L506.5 1345.31L507.0 1345.41L507.5 1345.50L508.0 1345.57L508.5 1345.63L509.0 1345.66L509.5 1345.66L510.0 1345.60L510.5 1345.45L511.0 1345.14L511.5 1344.56L512.0 1343.58L512.5 1342.14L513.0 1340.29L513.5 1338.22L514.0 1336.34L514.5 1335.08L515.0 1334.77L515.5 1335.50L516.0 1337.07L516.5 1339.09L517.0 1341.12L517.5 1342.84L518.0 1344.10L518.5 1344.91L519.0 1345.38L519.5 1345.62L520.0 1345.73L520.5 1345.78L521.0 1345.79L521.5 1345.79L522.0 1345.78L522.5 1345.76L523.0 1345.72L523.5 1345.69L524.0 1345.64L524.5 1345.60L525.0 1345.55L525.5 1345.50L526.0 1345.45L526.5 1345.40L527.0 1345.36L527.5 1345.31L528.0 1345.28L528.5 1345.24L529.0 1345.22L529.5 1345.21L530.0 1345.20L530.5 1345.21L531.0 1345.22L531.5 1345.25L532.0 1345.28L532.5 1345.33L533.0 1345.37L533.5 1345.43L534.0 1345.48L534.5 1345.54L535.0 1345.60L535.5 1345.66L536.0 1345.72L536.5 1345.77L537.0 1345.83L537.5 1345.88L538.0 1345.92L538.5 1345.95L539.0 1345.98L539.5 1345.99L540.0 1346.00L540.5 1346.00L541.0 1346.01L541.5 1346.03L542.0 1346.06L542.5 1346.08L543.0 1346.12L543.5 1346.16L544.0 1346.20L544.5 1346.25L545.0 1346.30L545.5 1346.35L546.0 1346.40L546.5 1346.46L547.0 1346.52L547.5 1346.58L548.0 1346.64L548.5 1346.69L549.0 1346.75L549.5 1346.81L550.0 1346.86L550.5 1346.91L551.0 1346.96L551.5 1347.01L552.0 1347.05L552.5 1347.09L553.0 1347.12L553.5 1347.15L554.0 1347.17L554.5 1347.19L555.0 1347.20L555.5 1347.20L556.0 1347.19L556.5 1347.16L557.0 1347.11L557.5 1347.05L558.0 1346.98L558.5 1346.91L559.0 1346.82L559.5 1346.73L560.0 1346.64L560.5 1346.54L561.0 1346.45L561.5 1346.36L562.0 1346.28L562.5 1346.20L563.0 1346.13L563.5 1346.08L564.0 1346.03L564.5 1345.98L565.0 1345.90L565.5 1345.72L566.0 1345.25L566.5 1344.12L567.0 1341.61L567.5 1336.42L568.0 1326.48L568.5 1308.87L569.0 1280.08L569.5 1236.75L570.0 1177.05L570.5 1102.17L571.0 1017.63L571.5 933.34L572.0 862.10L572.5 816.51L573.0 805.23L573.5 826.21L574.0 873.89L574.5 940.78L575.0 1017.32L575.5 1094.03L576.0 1163.40L576.5 1220.86L577.0 1264.85L577.5 1296.13L578.0 1316.87L578.5 1329.72L579.0 1337.18L579.5 1341.23L580.0 1343.29L580.5 1344.27L581.0 1344.70L581.5 1344.87L582.0 1344.92L582.5 1344.93L583.0 1344.93L583.5 1344.92L584.0 1344.91L584.5 1344.90L585.0 1344.90L585.5 1344.91L586.0 1344.93L586.5 1344.96L587.0 1345.01L587.5 1345.06L588.0 1345.12L588.5 1345.19L589.0 1345.27L589.5 1345.35L590.0 1345.43L590.5 1345.52L591.0 1345.61L591.5 1345.70L592.0 1345.78L592.5 1345.87L593.0 1345.95L593.5 1346.02L594.0 1346.09L594.5 1346.15L595.0 1346.20L595.5 1346.25L596.0 1346.28L596.5 1346.29L597.0 1346.29L597.5 1346.26L598.0 1346.17L598.5 1345.98L599.0 1345.62L599.5 1344.87L600.0 1343.37L600.5 1340.51L601.0 1335.35L601.5 1326.71L602.0 1313.33L602.5 1294.26L603.0 1269.44L603.5 1240.17L604.0 1209.39L604.5 1181.38L605.0 1160.84L605.5 1151.62L606.0 1154.77L606.5 1168.24L607.0 1189.79L607.5 1216.21L608.0 1243.99L608.5 1270.09L609.0 1292.43L609.5 1310.02L610.0 1322.82L610.5 1331.37L611.0 1336.43L611.5 1338.64L612.0 1338.27L612.5 1335.26L613.0 1329.30L613.5 1320.32L614.0 1308.90L614.5 1296.61L615.0 1285.86L615.5 1279.24L616.0 1278.49L616.5 1283.80L617.0 1293.69L617.5 1305.68L618.0 1317.29L618.5 1326.80L619.0 1333.57L619.5 1337.80L620.0 1340.14L620.5 1341.28L621.0 1341.77L621.5 1341.94L622.0 1341.99L622.5 1342.00L623.0 1342.00L623.5 1342.02L624.0 1342.08L624.5 1342.16L625.0 1342.27L625.5 1342.39L626.0 1342.51L626.5 1342.64L627.0 1342.76L627.5 1342.86L628.0 1342.94L628.5 1342.99L629.0 1343.00L629.5 1343.03L630.0 1343.10L630.5 1343.21L631.0 1343.35L631.5 1343.52L632.0 1343.71L632.5 1343.92L633.0 1344.15L633.5 1344.39L634.0 1344.64L634.5 1344.90L635.0 1345.15L635.5 1345.41L636.0 1345.65L636.5 1345.89L637.0 1346.11L637.5 1346.31L638.0 1346.49L638.5 1346.64L639.0 1346.76L639.5 1346.85L640.0 1346.89L640.5 1346.90L641.0 1346.85L641.5 1346.76L642.0 1346.63L642.5 1346.47L643.0 1346.29L643.5 1346.08L644.0 1345.85L644.5 1345.62L645.0 1345.38L645.5 1345.14L646.0 1344.91L646.5 1344.70L647.0 1344.50L647.5 1344.33L648.0 1344.18L648.5 1344.08L649.0 1344.02L649.5 1344.00L650.0 1344.01L650.5 1344.04L651.0 1344.08L651.5 1344.13L652.0 1344.19L652.5 1344.25L653.0 1344.32L653.5 1344.38L654.0 1344.44L654.5 1344.50L655.0 1344.54L655.5 1344.58L656.0 1344.60L656.5 1344.60L657.0 1344.58L657.5 1344.54L658.0 1344.45L658.5 1344.26L659.0 1343.89L659.5 1343.22L660.0 1342.11L660.5 1340.52L661.0 1338.55L661.5 1336.50L662.0 1334.84L662.5 1334.02L663.0 1334.28L663.5 1335.51L664.0 1337.33L664.5 1339.25L665.0 1340.90L665.5 1342.09L666.0 1342.82L666.5 1343.21L667.0 1343.39L667.5 1343.46L668.0 1343.48L668.5 1343.37L669.0 1343.06L669.5 1342.64L670.0 1342.22L670.5 1341.88L671.0 1341.71L671.5 1341.62L672.0 1341.34L672.5 1340.91L673.0 1340.40L673.5 1339.89L674.0 1339.42L674.5 1339.07L675.0 1338.91L675.5 1338.95L676.0 1339.12L676.5 1339.40L677.0 1339.75L677.5 1340.14L678.0 1340.54L678.5 1340.93L679.0 1341.26L679.5 1341.52L680.0 1341.67L680.5 1341.69L681.0 1341.58L681.5 1341.38L682.0 1341.10L682.5 1340.79L683.0 1340.45L683.5 1340.12L684.0 1339.82L684.5 1339.59L685.0 1339.44L685.5 1339.40L686.0 1339.46L686.5 1339.60L687.0 1339.81L687.5 1340.07L688.0 1340.37L688.5 1340.70L689.0 1341.05L689.5 1341.39L690.0 1341.73L690.5 1342.05L691.0 1342.34L691.5 1342.58L692.0 1342.76L692.5 1342.87L693.0 1342.90L693.5 1342.89L694.0 1342.85L694.5 1342.80L695.0 1342.74L695.5 1342.66L696.0 1342.57L696.5 1342.47L697.0 1342.37L697.5 1342.26L698.0 1342.14L698.5 1342.02L699.0 1341.91L699.5 1341.79L700.0 1341.68L700.5 1341.57L701.0 1341.47L701.5 1341.37L702.0 1341.29L702.5 1341.22L703.0 1341.16L703.5 1341.13L704.0 1341.10L704.5 1341.10L705.0 1341.10L705.5 1341.09L706.0 1341.08L706.5 1341.07L707.0 1341.05L707.5 1341.04L708.0 1341.03L708.5 1341.02L709.0 1341.01L709.5 1340.99L710.0 1340.98L710.5 1340.93L711.0 1340.80L711.5 1340.53L712.0 1340.02L712.5 1339.17L713.0 1337.93L713.5 1336.38L714.0 1334.77L714.5 1333.48L715.0 1332.85L715.5 1333.09L716.0 1334.10L716.5 1335.58L717.0 1337.15L717.5 1338.48L718.0 1339.45L718.5 1340.05L719.0 1340.37L719.5 1340.52L720.0 1340.58L720.5 1340.59L721.0 1340.60L721.5 1340.60L722.0 1340.60L722.5 1340.58L723.0 1340.57L723.5 1340.55L724.0 1340.52L724.5 1340.49L725.0 1340.46L725.5 1340.43L726.0 1340.39L726.5 1340.35L727.0 1340.31L727.5 1340.27L728.0 1340.23L728.5 1340.20L729.0 1340.16L729.5 1340.13L730.0 1340.10L730.5 1340.07L731.0 1340.04L731.5 1340.02L732.0 1340.01L732.5 1340.00L733.0 1340.00L733.5 1339.92L734.0 1339.74L734.5 1339.51L735.0 1339.23L735.5 1338.95L736.0 1338.69L736.5 1338.48L737.0 1338.34L737.5 1338.30L738.0 1338.33L738.5 1338.40L739.0 1338.50L739.5 1338.60L740.0 1338.72L740.5 1338.83L741.0 1338.92L741.5 1338.98L742.0 1339.00L742.5 1339.01L743.0 1339.05L743.5 1339.10L744.0 1339.16L744.5 1339.23L745.0 1339.29L745.5 1339.34L746.0 1339.38L746.5 1339.40L747.0 1339.32L747.5 1339.04L748.0 1338.60L748.5 1338.05L749.0 1337.45L749.5 1336.85L750.0 1336.30L750.5 1335.86L751.0 1335.58L751.5 1335.51L752.0 1335.72L752.5 1336.19L753.0 1336.84L753.5 1337.59L754.0 1338.37L754.5 1339.10L755.0 1339.72L755.5 1340.14L756.0 1340.30L756.5 1340.28L757.0 1340.21L757.5 1340.11L758.0 1339.98L758.5 1339.82L759.0 1339.64L759.5 1339.44L760.0 1339.23L760.5 1339.02L761.0 1338.81L761.5 1338.60L762.0 1338.40L762.5 1338.22L763.0 1338.05L763.5 1337.91L764.0 1337.80L764.5 1337.73L765.0 1337.70L765.5 1337.71L766.0 1337.76L766.5 1337.83L767.0 1337.93L767.5 1338.06L768.0 1338.20L768.5 1338.36L769.0 1338.54L769.5 1338.72L770.0 1338.91L770.5 1339.09L771.0 1339.28L771.5 1339.46L772.0 1339.64L772.5 1339.80L773.0 1339.94L773.5 1340.07L774.0 1340.17L774.5 1340.24L775.0 1340.29L775.5 1340.29L776.0 1340.26L776.5 1340.17L777.0 1339.97L777.5 1339.55L778.0 1338.73L778.5 1337.29L779.0 1335.02L779.5 1331.86L780.0 1328.02L780.5 1324.04L781.0 1320.74L781.5 1318.92L782.0 1319.05L782.5 1321.08L783.0 1324.45L783.5 1328.32L784.0 1331.93L784.5 1334.80L785.0 1336.78L785.5 1337.97L786.0 1338.60L786.5 1338.89L787.0 1339.00L787.5 1339.02L788.0 1339.01L788.5 1339.00L789.0 1339.00L789.5 1339.00L790.0 1339.01L790.5 1339.00L791.0 1338.97L791.5 1338.86L792.0 1338.57L792.5 1337.99L793.0 1336.96L793.5 1335.37L794.0 1333.24L794.5 1330.80L795.0 1328.48L795.5 1326.81L796.0 1326.26L796.5 1326.99L797.0 1328.83L797.5 1331.32L798.0 1333.93L798.5 1336.21L799.0 1337.95L799.5 1339.13L800.0 1339.85L800.5 1340.26L801.0 1340.49L801.5 1340.62L802.0 1340.70L802.5 1340.76L803.0 1340.81L803.5 1340.85L804.0 1340.87L804.5 1340.89L805.0 1340.90L805.5 1340.91L806.0 1340.93L806.5 1340.97L807.0 1341.02L807.5 1341.09L808.0 1341.16L808.5 1341.24L809.0 1341.33L809.5 1341.41L810.0 1341.50L810.5 1341.59L811.0 1341.68L811.5 1341.76L812.0 1341.83L812.5 1341.89L813.0 1341.94L813.5 1341.98L814.0 1342.00L814.5 1341.99L815.0 1341.92L815.5 1341.78L816.0 1341.58L816.5 1341.32L817.0 1341.03L817.5 1340.69L818.0 1340.34L818.5 1339.96L819.0 1339.59L819.5 1339.21L820.0 1338.85L820.5 1338.50L821.0 1338.19L821.5 1337.92L822.0 1337.69L822.5 1337.53L823.0 1337.43L823.5 1337.40L824.0 1337.52L824.5 1337.75L825.0 1338.05L825.5 1338.37L826.0 1338.65L826.5 1338.85L827.0 1338.90L827.5 1338.83L828.0 1338.68L828.5 1338.45L829.0 1338.17L829.5 1337.85L830.0 1337.51L830.5 1337.16L831.0 1336.81L831.5 1336.49L832.0 1336.20L832.5 1335.96L833.0 1335.79L833.5 1335.71L834.0 1335.71L834.5 1335.75L835.0 1335.84L835.5 1335.95L836.0 1336.10L836.5 1336.28L837.0 1336.49L837.5 1336.72L838.0 1336.97L838.5 1337.24L839.0 1337.52L839.5 1337.82L840.0 1338.13L840.5 1338.44L841.0 1338.75L841.5 1339.07L842.0 1339.39L842.5 1339.70L843.0 1340.00L843.5 1340.29L844.0 1340.57L844.5 1340.83L845.0 1341.07L845.5 1341.30L846.0 1341.49L846.5 1341.66L847.0 1341.80L847.5 1341.90L848.0 1341.97L848.5 1342.00L849.0 1341.99L849.5 1341.96L850.0 1341.90L850.5 1341.82L851.0 1341.72L851.5 1341.60L852.0 1341.46L852.5 1341.31L853.0 1341.15L853.5 1340.97L854.0 1340.79L854.5 1340.60L855.0 1340.40L855.5 1340.20L856.0 1340.00L856.5 1339.80L857.0 1339.60L857.5 1339.40L858.0 1339.21L858.5 1339.03L859.0 1338.85L859.5 1338.69L860.0 1338.54L860.5 1338.40L861.0 1338.28L861.5 1338.18L862.0 1338.10L862.5 1338.04L863.0 1338.01L863.5 1338.00L864.0 1338.04L864.5 1338.11L865.0 1338.23L865.5 1338.38L866.0 1338.56L866.5 1338.77L867.0 1338.98L867.5 1339.21L868.0 1339.45L868.5 1339.69L869.0 1339.92L869.5 1340.13L870.0 1340.34L870.5 1340.52L871.0 1340.67L871.5 1340.79L872.0 1340.86L872.5 1340.90L873.0 1340.89L873.5 1340.83L874.0 1340.74L874.5 1340.61L875.0 1340.47L875.5 1340.31L876.0 1340.15L876.5 1339.99L877.0 1339.83L877.5 1339.69L878.0 1339.56L878.5 1339.47L879.0 1339.41L879.5 1339.40L880.0 1339.44L880.5 1339.51L881.0 1339.61L881.5 1339.72L882.0 1339.83L882.5 1339.92L883.0 1339.98L883.5 1340.00L884.0 1339.94L884.5 1339.80L885.0 1339.60L885.5 1339.34L886.0 1339.04L886.5 1338.70L887.0 1338.33L887.5 1337.95L888.0 1337.57L888.5 1337.19L889.0 1336.83L889.5 1336.50L890.0 1336.20L890.5 1335.95L891.0 1335.76L891.5 1335.64L892.0 1335.60L892.5 1335.68L893.0 1335.90L893.5 1336.24L894.0 1336.66L894.5 1337.15L895.0 1337.68L895.5 1338.22L896.0 1338.75L896.5 1339.24L897.0 1339.66L897.5 1340.00L898.0 1340.22L898.5 1340.30L899.0 1340.30L899.5 1340.28L900.0 1340.26L900.5 1340.23L901.0 1340.18L901.5 1340.08L902.0 1339.89L902.5 1339.53L903.0 1338.89L903.5 1337.87L904.0 1336.44L904.5 1334.72L905.0 1333.01L905.5 1331.72L906.0 1331.20L906.5 1331.60L907.0 1332.77L907.5 1334.36L908.0 1335.96L908.5 1337.28L909.0 1338.19L909.5 1338.73L910.0 1338.99L910.5 1339.09L911.0 1339.11L911.5 1339.10L912.0 1339.07L912.5 1339.05L913.0 1339.02L913.5 1339.01L914.0 1339.00L914.5 1339.00L915.0 1339.03L915.5 1339.09L916.0 1339.18L916.5 1339.28L917.0 1339.41L917.5 1339.55L918.0 1339.70L918.5 1339.87L919.0 1340.03L919.5 1340.20L920.0 1340.37L920.5 1340.53L921.0 1340.68L921.5 1340.82L922.0 1340.94L922.5 1341.04L923.0 1341.12L923.5 1341.18L924.0 1341.20L924.5 1341.20L925.0 1341.19L925.5 1341.16L926.0 1341.10L926.5 1340.95L927.0 1340.58L927.5 1339.74L928.0 1337.98L928.5 1334.56L929.0 1328.47L929.5 1318.55L930.0 1303.87L930.5 1284.19L931.0 1260.57L931.5 1235.60L932.0 1213.14L932.5 1197.41L933.0 1191.69L933.5 1197.23L934.0 1212.79L934.5 1235.06L935.0 1259.83L935.5 1283.22L936.0 1302.63L936.5 1316.98L937.0 1326.40L937.5 1331.67L938.0 1333.65L938.5 1332.82L939.0 1329.15L939.5 1322.16L940.0 1311.17L940.5 1295.83L941.0 1276.61L941.5 1255.22L942.0 1234.56L942.5 1218.23L943.0 1209.45L943.5 1210.07L944.0 1219.89L944.5 1236.73L945.0 1257.22L945.5 1277.84L946.0 1295.92L946.5 1310.06L947.0 1320.05L947.5 1326.52L948.0 1330.39L948.5 1332.58L949.0 1333.78L949.5 1334.41L950.0 1334.66L950.5 1334.51L951.0 1333.76L951.5 1332.04L952.0 1329.00L952.5 1324.71L953.0 1319.94L953.5 1315.71L954.0 1312.57L954.5 1310.63L955.0 1309.79L955.5 1309.86L956.0 1310.51L956.5 1311.30L957.0 1311.85L957.5 1311.93L958.0 1311.60L958.5 1311.13L959.0 1310.99L959.5 1311.65L960.0 1313.52L960.5 1316.79L961.0 1321.34L961.5 1326.46L962.0 1331.01L962.5 1334.15L963.0 1335.84L963.5 1336.46L964.0 1336.50L964.5 1336.29L965.0 1336.09L965.5 1336.03L966.0 1336.15L966.5 1336.43L967.0 1336.76L967.5 1336.99L968.0 1336.92L968.5 1336.38L969.0 1335.27L969.5 1333.66L970.0 1331.81L970.5 1330.15L971.0 1329.12L971.5 1329.06L972.0 1330.00L972.5 1331.70L973.0 1333.75L973.5 1335.73L974.0 1337.35L974.5 1338.51L975.0 1339.24L975.5 1339.62L976.0 1339.76L976.5 1339.76L977.0 1339.69L977.5 1339.61L978.0 1339.54L978.5 1339.50L979.0 1339.49L979.5 1339.47L980.0 1339.43L980.5 1339.38L981.0 1339.31L981.5 1339.23L982.0 1339.15L982.5 1339.05L983.0 1338.94L983.5 1338.83L984.0 1338.71L984.5 1338.59L985.0 1338.46L985.5 1338.34L986.0 1338.21L986.5 1338.09L987.0 1337.97L987.5 1337.85L988.0 1337.74L988.5 1337.63L989.0 1337.54L989.5 1337.45L990.0 1337.37L990.5 1337.31L991.0 1337.26L991.5 1337.22L992.0 1337.20L992.5 1337.20L993.0 1337.22L993.5 1337.25L994.0 1337.30L994.5 1337.36L995.0 1337.43L995.5 1337.50L996.0 1337.58L996.5 1337.65L997.0 1337.73L997.5 1337.80L998.0 1337.87L998.5 1337.92L999.0 1337.96L999.5 1337.99L1000.0 1338.00L1000.5 1338.03L1001.0 1338.10L1001.5 1338.22L1002.0 1338.38L1002.5 1338.57L1003.0 1338.78L1003.5 1339.01L1004.0 1339.25L1004.5 1339.50L1005.0 1339.75L1005.5 1339.99L1006.0 1340.22L1006.5 1340.43L1007.0 1340.62L1007.5 1340.78L1008.0 1340.90L1008.5 1340.97L1009.0 1341.00L1009.5 1340.97L1010.0 1340.90L1010.5 1340.78L1011.0 1340.64L1011.5 1340.47L1012.0 1340.30L1012.5 1340.13L1013.0 1339.96L1013.5 1339.82L1014.0 1339.70L1014.5 1339.63L1015.0 1339.60L1015.5 1339.62L1016.0 1339.67L1016.5 1339.76L1017.0 1339.86L1017.5 1339.98L1018.0 1340.10L1018.5 1340.22L1019.0 1340.34L1019.5 1340.44L1020.0 1340.52L1020.5 1340.57L1021.0 1340.58L1021.5 1340.55L1022.0 1340.48L1022.5 1340.32L1023.0 1340.02L1023.5 1339.48L1024.0 1338.60L1024.5 1337.28L1025.0 1335.48L1025.5 1333.25L1026.0 1330.77L1026.5 1328.31L1027.0 1326.13L1027.5 1324.33L1028.0 1322.75L1028.5 1320.94L1029.0 1318.37L1029.5 1314.66L1030.0 1309.93L1030.5 1304.89L1031.0 1300.75L1031.5 1298.74L1032.0 1299.67L1032.5 1303.56L1033.0 1309.66L1033.5 1316.73L1034.0 1323.56L1034.5 1329.25L1035.0 1333.45L1035.5 1336.18L1036.0 1337.72L1036.5 1338.34L1037.0 1338.13L1037.5 1336.93L1038.0 1334.21L1038.5 1329.05L1039.0 1320.30L1039.5 1306.81L1040.0 1287.95L1040.5 1264.25L1041.0 1237.81L1041.5 1212.30L1042.0 1192.20L1042.5 1181.57L1043.0 1182.51L1043.5 1193.93L1044.0 1213.45L1044.5 1237.50L1045.0 1262.23L1045.5 1284.50L1046.0 1302.41L1046.5 1315.40L1047.0 1323.91L1047.5 1328.92L1048.0 1331.55L1048.5 1332.78L1049.0 1333.31L1049.5 1333.62L1050.0 1333.97L1050.5 1334.45L1051.0 1335.10L1051.5 1335.86L1052.0 1336.69L1052.5 1337.52L1053.0 1338.29L1053.5 1338.96L1054.0 1339.53L1054.5 1339.97L1055.0 1340.31L1055.5 1340.56L1056.0 1340.74L1056.5 1340.86L1057.0 1340.94L1057.5 1341.00L1058.0 1341.04L1058.5 1341.06L1059.0 1341.08L1059.5 1341.09L1060.0 1341.10L1060.5 1341.10L1061.0 1341.09L1061.5 1341.07L1062.0 1341.05L1062.5 1341.01L1063.0 1340.97L1063.5 1340.93L1064.0 1340.87L1064.5 1340.82L1065.0 1340.75L1065.5 1340.69L1066.0 1340.62L1066.5 1340.55L1067.0 1340.48L1067.5 1340.40L1068.0 1340.33L1068.5 1340.25L1069.0 1340.18L1069.5 1340.11L1070.0 1340.04L1070.5 1339.97L1071.0 1339.91L1071.5 1339.85L1072.0 1339.79L1072.5 1339.74L1073.0 1339.70L1073.5 1339.67L1074.0 1339.64L1074.5 1339.61L1075.0 1339.60L1075.5 1339.59L1076.0 1339.58L1076.5 1339.57L1077.0 1339.51L1077.5 1339.38L1078.0 1339.09L1078.5 1338.55L1079.0 1337.64L1079.5 1336.23L1080.0 1334.27L1080.5 1331.80L1081.0 1329.00L1081.5 1326.21L1082.0 1323.88L1082.5 1322.42L1083.0 1322.14L1083.5 1323.11L1084.0 1325.16L1084.5 1327.93L1085.0 1330.95L1085.5 1333.83L1086.0 1336.29L1086.5 1338.18L1087.0 1339.52L1087.5 1340.41L1088.0 1340.95L1088.5 1341.26L1089.0 1341.44L1089.5 1341.53L1090.0 1341.58L1090.5 1341.59L1091.0 1341.60L1091.5 1341.60L1092.0 1341.60L1092.5 1341.60L1093.0 1341.60L1093.5 1341.60L1094.0 1341.60L1094.5 1341.60L1095.0 1341.60L1095.5 1341.60L1096.0 1341.60L1096.5 1341.60L1097.0 1341.60L1097.5 1341.60L1098.0 1341.60L1098.5 1341.60L1099.0 1341.60L1099.5 1341.60L1100.0 1341.60L1100.5 1341.59L1101.0 1341.57L1101.5 1341.53L1102.0 1341.48L1102.5 1341.42L1103.0 1341.35L1103.5 1341.27L1104.0 1341.19L1104.5 1341.09L1105.0 1341.00L1105.5 1340.90L1106.0 1340.80L1106.5 1340.70L1107.0 1340.60L1107.5 1340.51L1108.0 1340.41L1108.5 1340.33L1109.0 1340.25L1109.5 1340.18L1110.0 1340.12L1110.5 1340.07L1111.0 1340.03L1111.5 1340.01L1112.0 1340.00L1112.5 1339.99L1113.0 1339.95L1113.5 1339.90L1114.0 1339.84L1114.5 1339.76L1115.0 1339.68L1115.5 1339.59L1116.0 1339.51L1116.5 1339.42L1117.0 1339.35L1117.5 1339.29L1118.0 1339.24L1118.5 1339.21L1119.0 1339.20L1119.5 1339.22L1120.0 1339.25L1120.5 1339.31L1121.0 1339.39L1121.5 1339.48L1122.0 1339.59L1122.5 1339.71L1123.0 1339.85L1123.5 1339.99L1124.0 1340.15L1124.5 1340.31L1125.0 1340.48L1125.5 1340.66L1126.0 1340.83L1126.5 1341.01L1127.0 1341.19L1127.5 1341.37L1128.0 1341.55L1128.5 1341.72L1129.0 1341.89L1129.5 1342.05L1130.0 1342.20L1130.5 1342.34L1131.0 1342.46L1131.5 1342.58L1132.0 1342.68L1132.5 1342.76L1133.0 1342.83L1133.5 1342.87L1134.0 1342.90L1134.5 1342.90L1135.0 1342.89L1135.5 1342.88L1136.0 1342.86L1136.5 1342.83L1137.0 1342.80L1137.5 1342.76L1138.0 1342.72L1138.5 1342.67L1139.0 1342.62L1139.5 1342.56L1140.0 1342.50L1140.5 1342.44L1141.0 1342.38L1141.5 1342.31L1142.0 1342.24L1142.5 1342.17L1143.0 1342.10L1143.5 1342.03L1144.0 1341.96L1144.5 1341.89L1145.0 1341.81L1145.5 1341.74L1146.0 1341.68L1146.5 1341.61L1147.0 1341.55L1147.5 1341.48L1148.0 1341.43L1148.5 1341.37L1149.0 1341.32L1149.5 1341.27L1150.0 1341.23L1150.5 1341.19L1151.0 1341.16L1151.5 1341.14L1152.0 1341.12L1152.5 1341.11L1153.0 1341.10L1153.5 1341.10L1154.0 1341.12L1154.5 1341.15L1155.0 1341.19L1155.5 1341.24L1156.0 1341.29L1156.5 1341.34L1157.0 1341.40L1157.5 1341.45L1158.0 1341.50L1158.5 1341.54L1159.0 1341.57L1159.5 1341.59L1160.0 1341.60L1160.5 1341.59L1161.0 1341.58L1161.5 1341.55L1162.0 1341.52L1162.5 1341.48L1163.0 1341.44L1163.5 1341.39L1164.0 1341.33L1164.5 1341.28L1165.0 1341.22L1165.5 1341.16L1166.0 1341.10L1166.5 1341.05L1167.0 1340.99L1167.5 1340.95L1168.0 1340.90L1168.5 1340.86L1169.0 1340.84L1169.5 1340.81L1170.0 1340.80L1170.5 1340.80L1171.0 1340.82L1171.5 1340.85L1172.0 1340.90L1172.5 1340.96L1173.0 1341.04L1173.5 1341.12L1174.0 1341.22L1174.5 1341.33L1175.0 1341.45L1175.5 1341.57L1176.0 1341.70L1176.5 1341.83L1177.0 1341.97L1177.5 1342.11L1178.0 1342.25L1178.5 1342.39L1179.0 1342.53L1179.5 1342.67L1180.0 1342.80L1180.5 1342.93L1181.0 1343.05L1181.5 1343.17L1182.0 1343.28L1182.5 1343.38L1183.0 1343.46L1183.5 1343.54L1184.0 1343.60L1184.5 1343.65L1185.0 1343.68L1185.5 1343.70L1186.0 1343.70L1186.5 1343.68L1187.0 1343.64L1187.5 1343.58L1188.0 1343.51L1188.5 1343.43L1189.0 1343.34L1189.5 1343.25L1190.0 1343.14L1190.5 1343.03L1191.0 1342.92L1191.5 1342.80L1192.0 1342.69L1192.5 1342.58L1193.0 1342.47L1193.5 1342.37L1194.0 1342.28L1194.5 1342.20L1195.0 1342.13L1195.5 1342.07L1196.0 1342.03L1196.5 1342.01L1197.0 1342.00L1197.5 1342.02L1198.0 1342.06L1198.5 1342.12L1199.0 1342.19L1199.5 1342.29L1200.0 1342.40L1200.5 1342.52L1201.0 1342.66L1201.5 1342.81L1202.0 1342.97L1202.5 1343.13L1203.0 1343.30L1203.5 1343.47L1204.0 1343.65L1204.5 1343.82L1205.0 1344.00L1205.5 1344.17L1206.0 1344.34L1206.5 1344.50L1207.0 1344.65L1207.5 1344.79L1208.0 1344.93L1208.5 1345.05L1209.0 1345.15L1209.5 1345.24L1210.0 1345.31L1210.5 1345.36L1211.0 1345.39L1211.5 1345.40L1212.0 1345.39L1212.5 1345.36L1213.0 1345.32L1213.5 1345.26L1214.0 1345.20L1214.5 1345.12L1215.0 1345.03L1215.5 1344.94L1216.0 1344.84L1216.5 1344.74L1217.0 1344.63L1217.5 1344.53L1218.0 1344.42L1218.5 1344.32L1219.0 1344.22L1219.5 1344.12L1220.0 1344.03L1220.5 1343.95L1221.0 1343.88L1221.5 1343.81L1222.0 1343.76L1222.5 1343.73L1223.0 1343.71L1223.5 1343.70L1224.0 1343.72L1224.5 1343.76L1225.0 1343.83L1225.5 1343.92L1226.0 1344.02L1226.5 1344.14L1227.0 1344.28L1227.5 1344.43L1228.0 1344.59L1228.5 1344.76L1229.0 1344.94L1229.5 1345.12L1230.0 1345.31L1230.5 1345.49L1231.0 1345.68L1231.5 1345.86L1232.0 1346.04L1232.5 1346.21L1233.0 1346.37L1233.5 1346.52L1234.0 1346.66L1234.5 1346.78L1235.0 1346.88L1235.5 1346.97L1236.0 1347.04L1236.5 1347.08L1237.0 1347.10L1237.5 1347.11L1238.0 1347.14L1238.5 1347.19L1239.0 1347.27L1239.5 1347.36L1240.0 1347.46L1240.5 1347.58L1241.0 1347.71L1241.5 1347.85L1242.0 1348.00L1242.5 1348.15L1243.0 1348.30L1243.5 1348.46L1244.0 1348.61L1244.5 1348.76L1245.0 1348.91L1245.5 1349.04L1246.0 1349.17L1246.5 1349.28L1247.0 1349.38L1247.5 1349.47L1248.0 1349.53L1248.5 1349.58L1249.0 1349.60L1249.5 1349.60L1250.0 1349.60L1250.5 1349.60L1251.0 1349.60L1251.5 1349.60L1252.0 1349.60L1252.5 1349.60L1253.0 1349.60L1253.5 1349.60L1254.0 1349.60L1254.5 1349.60L1255.0 1349.60L1255.5 1349.60L1256.0 1349.60L1256.5 1349.60L1257.0 1349.60L1257.5 1349.60L1258.0 1349.60L1258.5 1349.60L1259.0 1349.60L1259.5 1349.60L1260.0 1349.60L1260.5 1349.60L1261.0 1349.60L1261.5 1349.60L1262.0 1349.60L1262.5 1349.60L1263.0 1349.60L1263.5 1349.60L1264.0 1349.60L1264.5 1349.60L1265.0 1349.60L1265.5 1349.60L1266.0 1349.60L1266.5 1349.60L1267.0 1349.60L1267.5 1349.60L1268.0 1349.60L1268.5 1349.60L1269.0 1349.60L1269.5 1349.60L1270.0 1349.60L1270.5 1349.60L1271.0 1349.60L1271.5 1349.60L1272.0 1349.60L1272.5 1349.60L1273.0 1349.60L1273.5 1349.60L1274.0 1349.60L1274.5 1349.60L1275.0 1349.60L1275.5 1349.60L1276.0 1349.60L1276.5 1349.60L1277.0 1349.60L1277.5 1349.60L1278.0 1349.60L1278.5 1349.60L1279.0 1349.60L1279.5 1349.60L1280.0 1349.60L1280.5 1349.60L1281.0 1349.60L1281.5 1349.60L1282.0 1349.60L1282.5 1349.60L1283.0 1349.60L1283.5 1349.60L1284.0 1349.60L1284.5 1349.60L1285.0 1349.60L1285.5 1349.60L1286.0 1349.60L1286.5 1349.60L1287.0 1349.60L1287.5 1349.60L1288.0 1349.60L1288.5 1349.60L1289.0 1349.60L1289.5 1349.60L1290.0 1349.60L1290.5 1349.60L1291.0 1349.60L1291.5 1349.60L1292.0 1349.60L1292.5 1349.60L1293.0 1349.60L1293.5 1349.60L1294.0 1349.60L1294.5 1349.60L1295.0 1349.60L1295.5 1349.60L1296.0 1349.60L1296.5 1349.60L1297.0 1349.60L1297.5 1349.60L1298.0 1349.60L1298.5 1349.60L1299.0 1349.60L1299.5 1349.60L1300.0 1349.60L1300.5 1349.60L1301.0 1349.60L1301.5 1349.60L1302.0 1349.60L1302.5 1349.60L1303.0 1349.60L1303.5 1349.60L1304.0 1349.60L1304.5 1349.60L1305.0 1349.60L1305.5 1349.60L1306.0 1349.60L1306.5 1349.60L1307.0 1349.60L1307.5 1349.60L1308.0 1349.60L1308.5 1349.60L1309.0 1349.60L1309.5 1349.60L1310.0 1349.60L1310.5 1349.60L1311.0 1349.60L1311.5 1349.60L1312.0 1349.60L1312.5 1349.60L1313.0 1349.60L1313.5 1349.60L1314.0 1349.60L1314.5 1349.60L1315.0 1349.60L1315.5 1349.60L1316.0 1349.60L1316.5 1349.60L1317.0 1349.60L1317.5 1349.60L1318.0 1349.60L1318.5 1349.60L1319.0 1349.60L1319.5 1349.60L1320.0 1349.60L1320.5 1349.60L1321.0 1349.60L1321.5 1349.60L1322.0 1349.60L1322.5 1349.60L1323.0 1349.60" fill="none" stroke="#0e0e0e" stroke-width="3" stroke-linejoin="round" stroke-linecap="round"/>
<line x1="979.6" y1="1150" x2="954.9" y2="1294.3" stroke="#3a3a3a" stroke-width="2"/>
<line x1="995" y1="1253" x2="967.5" y2="1294.3" stroke="#3a3a3a" stroke-width="2"/>
<text x="121.5" y="63.6" font-size="31.1" font-weight="normal" text-anchor="start" fill="#262626" textLength="78.3" lengthAdjust="spacingAndGlyphs" font-family="Liberation Sans, sans-serif" stroke="#262626" stroke-width="0.4">1200</text>
<text x="121.5" y="152.7" font-size="31.1" font-weight="normal" text-anchor="start" fill="#262626" textLength="78.3" lengthAdjust="spacingAndGlyphs" font-family="Liberation Sans, sans-serif" stroke="#262626" stroke-width="0.4">1000</text>
<text x="141.0" y="241.8" font-size="31.1" font-weight="normal" text-anchor="start" fill="#262626" textLength="58.8" lengthAdjust="spacingAndGlyphs" font-family="Liberation Sans, sans-serif" stroke="#262626" stroke-width="0.4">800</text>
<text x="140.7" y="330.9" font-size="31.1" font-weight="normal" text-anchor="start" fill="#262626" textLength="59.1" lengthAdjust="spacingAndGlyphs" font-family="Liberation Sans, sans-serif" stroke="#262626" stroke-width="0.4">600</text>
<text x="141.7" y="420.0" font-size="31.1" font-weight="normal" text-anchor="start" fill="#262626" textLength="58.1" lengthAdjust="spacingAndGlyphs" font-family="Liberation Sans, sans-serif" stroke="#262626" stroke-width="0.4">400</text>
<text x="140.7" y="509.1" font-size="31.1" font-weight="normal" text-anchor="start" fill="#262626" textLength="59.1" lengthAdjust="spacingAndGlyphs" font-family="Liberation Sans, sans-serif" stroke="#262626" stroke-width="0.4">200</text>
<text x="180.3" y="598.2" font-size="31.1" font-weight="normal" text-anchor="start" fill="#262626" textLength="19.4" lengthAdjust="spacingAndGlyphs" font-family="Liberation Sans, sans-serif" stroke="#262626" stroke-width="0.4">0</text>
<text x="222.7" y="642.7" font-size="28.8" font-weight="normal" text-anchor="start" fill="#262626" textLength="21.1" lengthAdjust="spacingAndGlyphs" font-family="Liberation Sans, sans-serif" stroke="#262626" stroke-width="0.4">0</text>
<text x="545.6" y="642.8" font-size="30.2" font-weight="normal" text-anchor="start" fill="#262626" textLength="18.2" lengthAdjust="spacingAndGlyphs" font-family="Liberation Sans, sans-serif" stroke="#262626" stroke-width="0.4">5</text>
<text x="854.9" y="642.6" font-size="29.4" font-weight="normal" text-anchor="start" fill="#262626" textLength="39.9" lengthAdjust="spacingAndGlyphs" font-family="Liberation Sans, sans-serif" stroke="#262626" stroke-width="0.4">10</text>
<text x="1176.6" y="642.7" font-size="29.2" font-weight="normal" text-anchor="start" fill="#262626" textLength="37.8" lengthAdjust="spacingAndGlyphs" font-family="Liberation Sans, sans-serif" stroke="#262626" stroke-width="0.4">15</text>
<text x="122.1" y="800.4" font-size="32.2" font-weight="normal" text-anchor="start" fill="#262626" textLength="57.4" lengthAdjust="spacingAndGlyphs" font-family="Liberation Sans, sans-serif" stroke="#262626" stroke-width="0.4">250</text>
<text x="122.1" y="912.1" font-size="32.2" font-weight="normal" text-anchor="start" fill="#262626" textLength="57.4" lengthAdjust="spacingAndGlyphs" font-family="Liberation Sans, sans-serif" stroke="#262626" stroke-width="0.4">200</text>
<text x="121.6" y="1023.8" font-size="32.2" font-weight="normal" text-anchor="start" fill="#262626" textLength="57.9" lengthAdjust="spacingAndGlyphs" font-family="Liberation Sans, sans-serif" stroke="#262626" stroke-width="0.4">150</text>
<text x="121.6" y="1135.5" font-size="32.2" font-weight="normal" text-anchor="start" fill="#262626" textLength="57.9" lengthAdjust="spacingAndGlyphs" font-family="Liberation Sans, sans-serif" stroke="#262626" stroke-width="0.4">100</text>
<text x="142.5" y="1247.2" font-size="32.2" font-weight="normal" text-anchor="start" fill="#262626" textLength="36.9" lengthAdjust="spacingAndGlyphs" font-family="Liberation Sans, sans-serif" stroke="#262626" stroke-width="0.4">50</text>
<text x="159.2" y="1358.9" font-size="32.2" font-weight="normal" text-anchor="start" fill="#262626" textLength="20.4" lengthAdjust="spacingAndGlyphs" font-family="Liberation Sans, sans-serif" stroke="#262626" stroke-width="0.4">0</text>
<text x="204.9" y="1404.8" font-size="31.8" font-weight="normal" text-anchor="start" fill="#262626" textLength="20.2" lengthAdjust="spacingAndGlyphs" font-family="Liberation Sans, sans-serif" stroke="#262626" stroke-width="0.4">0</text>
<text x="532.3" y="1405.2" font-size="32.7" font-weight="normal" text-anchor="start" fill="#262626" textLength="18.8" lengthAdjust="spacingAndGlyphs" font-family="Liberation Sans, sans-serif" stroke="#262626" stroke-width="0.4">5</text>
<text x="847.4" y="1405.2" font-size="32.8" font-weight="normal" text-anchor="start" fill="#262626" textLength="40.7" lengthAdjust="spacingAndGlyphs" font-family="Liberation Sans, sans-serif" stroke="#262626" stroke-width="0.4">10</text>
<text x="1175.1" y="1404.5" font-size="30.2" font-weight="normal" text-anchor="start" fill="#262626" textLength="38.0" lengthAdjust="spacingAndGlyphs" font-family="Liberation Sans, sans-serif" stroke="#262626" stroke-width="0.4">15</text>
<text x="690.9" y="693.1" font-size="30.5" font-weight="bold" text-anchor="start" fill="#080808" textLength="171.6" lengthAdjust="spacingAndGlyphs" font-family="Liberation Sans, sans-serif" >Time (min)</text>
<text x="681.6" y="1458.1" font-size="30.5" font-weight="bold" text-anchor="start" fill="#080808" textLength="172.4" lengthAdjust="spacingAndGlyphs" font-family="Liberation Sans, sans-serif" >Time (min)</text>
<text transform="translate(95.8 581.0) rotate(-90)" font-size="34.0" font-weight="bold" fill="#080808" textLength="163.98" lengthAdjust="spacingAndGlyphs" font-family="Liberation Sans, sans-serif">Absorbance</text>
<text transform="translate(95.8 408.3) rotate(-90)" font-size="34.0" font-weight="bold" fill="#080808" textLength="27.48" lengthAdjust="spacingAndGlyphs" font-family="Liberation Sans, sans-serif">at</text>
<text transform="translate(95.8 372.2) rotate(-90)" font-size="34.0" font-weight="bold" fill="#080808" textLength="99.16" lengthAdjust="spacingAndGlyphs" font-family="Liberation Sans, sans-serif">320nm</text>
<text transform="translate(95.8 267.4) rotate(-90)" font-size="34.0" font-weight="bold" fill="#080808" textLength="93.61" lengthAdjust="spacingAndGlyphs" font-family="Liberation Sans, sans-serif">(mAU)</text>
<text transform="translate(98.9 1346.7) rotate(-90)" font-size="34.5" font-weight="bold" fill="#080808" textLength="172.56" lengthAdjust="spacingAndGlyphs" font-family="Liberation Sans, sans-serif">Absorbance</text>
<text transform="translate(98.9 1168.3) rotate(-90)" font-size="34.5" font-weight="bold" fill="#080808" textLength="30.52" lengthAdjust="spacingAndGlyphs" font-family="Liberation Sans, sans-serif">at</text>
<text transform="translate(98.9 1128.6) rotate(-90)" font-size="34.5" font-weight="bold" fill="#080808" textLength="104.09" lengthAdjust="spacingAndGlyphs" font-family="Liberation Sans, sans-serif">320nm</text>
<text transform="translate(98.9 1019.1) rotate(-90)" font-size="34.5" font-weight="bold" fill="#080808" textLength="96.61" lengthAdjust="spacingAndGlyphs" font-family="Liberation Sans, sans-serif">(mAU)</text>
<text x="1290.0" y="85.0" font-size="23.8" font-weight="bold" text-anchor="start" fill="#0a0a0a" textLength="15.6" lengthAdjust="spacingAndGlyphs" font-family="Liberation Sans, sans-serif" >A</text>
<text x="1281.1" y="812.8" font-size="26.3" font-weight="bold" text-anchor="start" fill="#0a0a0a" textLength="14.8" lengthAdjust="spacingAndGlyphs" font-family="Liberation Sans, sans-serif" >B</text>
<text x="469.0" y="570.8" font-size="27.0" font-weight="bold" text-anchor="start" fill="#050505" textLength="12.9" lengthAdjust="spacingAndGlyphs" font-family="Liberation Sans, sans-serif" >1</text>
<text x="580.1" y="68.4" font-size="27.8" font-weight="bold" text-anchor="start" fill="#050505" textLength="13.7" lengthAdjust="spacingAndGlyphs" font-family="Liberation Sans, sans-serif" >2</text>
<text x="607.0" y="559.0" font-size="25.5" font-weight="bold" text-anchor="start" fill="#050505" textLength="13.0" lengthAdjust="spacingAndGlyphs" font-family="Liberation Sans, sans-serif" >3</text>
<text x="622.2" y="574.2" font-size="26.3" font-weight="bold" text-anchor="start" fill="#050505" textLength="12.9" lengthAdjust="spacingAndGlyphs" font-family="Liberation Sans, sans-serif" >4</text>
<text x="679.1" y="572.7" font-size="26.5" font-weight="bold" text-anchor="start" fill="#050505" textLength="13.1" lengthAdjust="spacingAndGlyphs" font-family="Liberation Sans, sans-serif" >5</text>
<text x="699.6" y="581.9" font-size="26.3" font-weight="bold" text-anchor="start" fill="#050505" textLength="12.8" lengthAdjust="spacingAndGlyphs" font-family="Liberation Sans, sans-serif" >6</text>
<text x="824.3" y="575.9" font-size="27.8" font-weight="bold" text-anchor="start" fill="#050505" textLength="13.7" lengthAdjust="spacingAndGlyphs" font-family="Liberation Sans, sans-serif" >7</text>
<text x="945.4" y="553.3" font-size="24.6" font-weight="bold" text-anchor="start" fill="#050505" textLength="13.9" lengthAdjust="spacingAndGlyphs" font-family="Liberation Sans, sans-serif" >8</text>
<text x="960.3" y="113.8" font-size="26.8" font-weight="bold" text-anchor="start" fill="#050505" textLength="14.2" lengthAdjust="spacingAndGlyphs" font-family="Liberation Sans, sans-serif" >9</text>
<text x="985.8" y="521.0" font-size="26.0" font-weight="bold" text-anchor="start" fill="#050505" textLength="27.5" lengthAdjust="spacingAndGlyphs" font-family="Liberation Sans, sans-serif" >11</text>
<text x="1041.6" y="344.1" font-size="25.3" font-weight="bold" text-anchor="start" fill="#050505" textLength="29.4" lengthAdjust="spacingAndGlyphs" font-family="Liberation Sans, sans-serif" >12</text>
<text x="1075.9" y="509.2" font-size="23.7" font-weight="bold" text-anchor="start" fill="#050505" textLength="28.2" lengthAdjust="spacingAndGlyphs" font-family="Liberation Sans, sans-serif" >13</text>
<text x="1213.0" y="573.9" font-size="25.3" font-weight="bold" text-anchor="start" fill="#050505" textLength="26.4" lengthAdjust="spacingAndGlyphs" font-family="Liberation Sans, sans-serif" >14</text>
<text x="1260.0" y="583.3" font-size="25.9" font-weight="bold" text-anchor="start" fill="#050505" textLength="28.0" lengthAdjust="spacingAndGlyphs" font-family="Liberation Sans, sans-serif" >15</text>
<text x="442.3" y="1154.8" font-size="29.5" font-weight="bold" text-anchor="start" fill="#050505" textLength="13.3" lengthAdjust="spacingAndGlyphs" font-family="Liberation Sans, sans-serif" >1</text>
<text x="558.7" y="803.0" font-size="29.8" font-weight="bold" text-anchor="start" fill="#050505" textLength="13.9" lengthAdjust="spacingAndGlyphs" font-family="Liberation Sans, sans-serif" >2</text>
<text x="596.1" y="1137.9" font-size="27.3" font-weight="bold" text-anchor="start" fill="#050505" textLength="13.3" lengthAdjust="spacingAndGlyphs" font-family="Liberation Sans, sans-serif" >3</text>
<text x="607.4" y="1271.1" font-size="28.6" font-weight="bold" text-anchor="start" fill="#050505" textLength="12.4" lengthAdjust="spacingAndGlyphs" font-family="Liberation Sans, sans-serif" >4</text>
<text x="647.5" y="1327.6" font-size="26.7" font-weight="bold" text-anchor="start" fill="#050505" textLength="12.4" lengthAdjust="spacingAndGlyphs" font-family="Liberation Sans, sans-serif" >5</text>
<text x="772.4" y="1308.1" font-size="30.4" font-weight="bold" text-anchor="start" fill="#050505" textLength="14.6" lengthAdjust="spacingAndGlyphs" font-family="Liberation Sans, sans-serif" >7</text>
<text x="917.7" y="1177.2" font-size="27.3" font-weight="bold" text-anchor="start" fill="#050505" textLength="14.4" lengthAdjust="spacingAndGlyphs" font-family="Liberation Sans, sans-serif" >8</text>
<text x="937.3" y="1189.1" font-size="26.1" font-weight="bold" text-anchor="start" fill="#050505" textLength="13.7" lengthAdjust="spacingAndGlyphs" font-family="Liberation Sans, sans-serif" >9</text>
<text x="956.7" y="1139.9" font-size="27.8" font-weight="bold" text-anchor="start" fill="#050505" textLength="29.3" lengthAdjust="spacingAndGlyphs" font-family="Liberation Sans, sans-serif" >10</text>
<text x="973.2" y="1243.9" font-size="28.5" font-weight="bold" text-anchor="start" fill="#050505" textLength="29.0" lengthAdjust="spacingAndGlyphs" font-family="Liberation Sans, sans-serif" >11</text>
<text x="1026.7" y="1165.2" font-size="27.6" font-weight="bold" text-anchor="start" fill="#050505" textLength="29.8" lengthAdjust="spacingAndGlyphs" font-family="Liberation Sans, sans-serif" >12</text>
<text x="1066.0" y="1308.2" font-size="28.3" font-weight="bold" text-anchor="start" fill="#050505" textLength="28.0" lengthAdjust="spacingAndGlyphs" font-family="Liberation Sans, sans-serif" >13</text>
<circle cx="1398.5" cy="1525" r="2.2" fill="#111"/>
</g>
</svg>
</body></html>
